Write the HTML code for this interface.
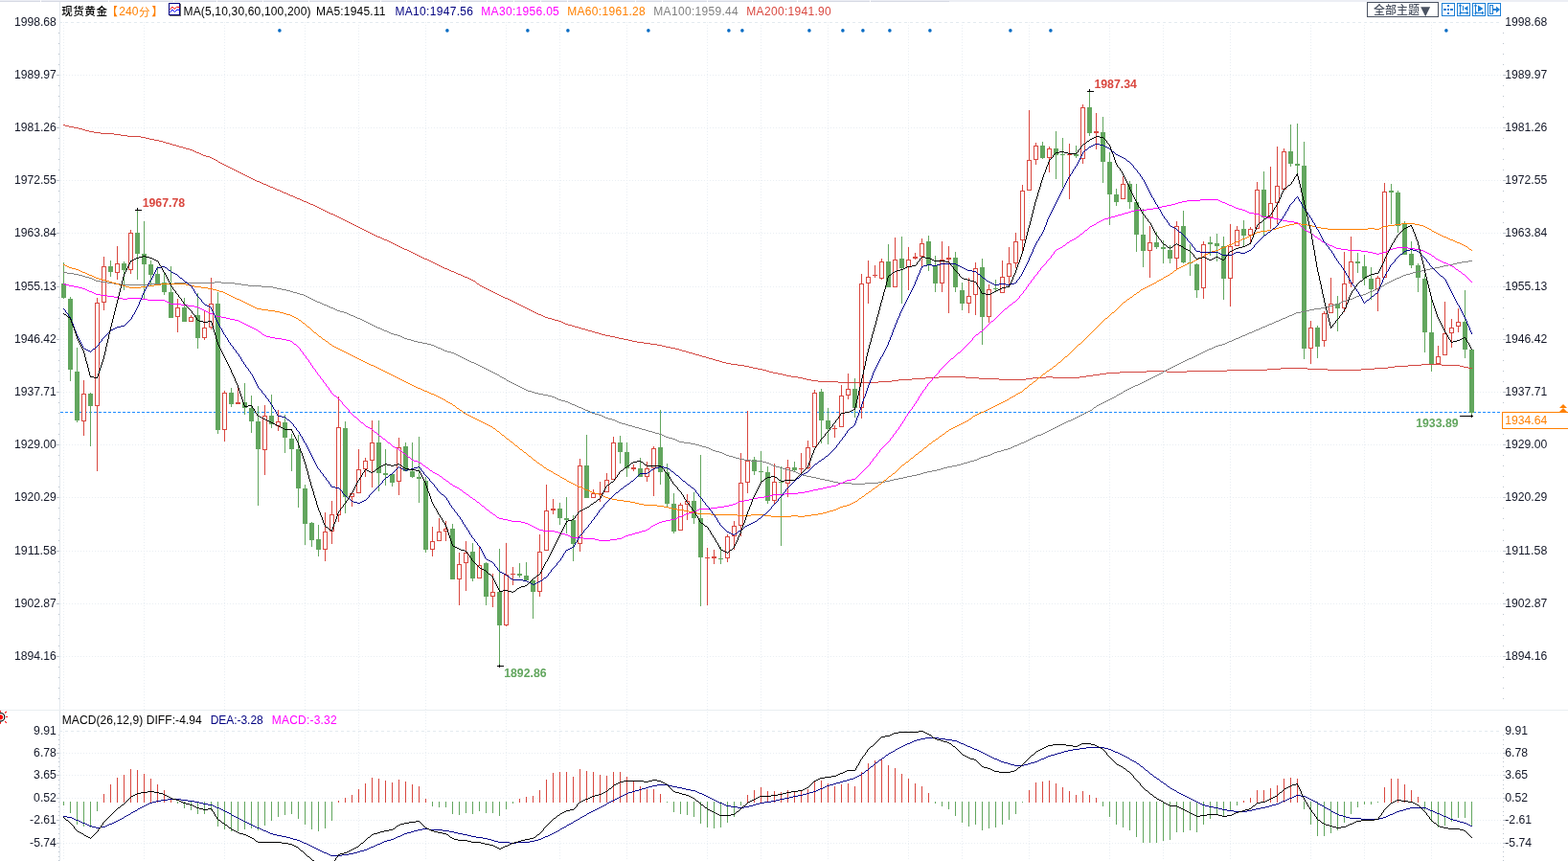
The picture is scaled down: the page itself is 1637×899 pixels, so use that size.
<!DOCTYPE html>
<html lang="zh-CN"><head><meta charset="utf-8"><title>现货黄金 240分</title>
<style>html,body{margin:0;padding:0;background:#fff;overflow:hidden}svg{display:block}text{font-family:"Liberation Sans","Noto Sans CJK SC",sans-serif;font-size:12px}.cj{font-family:"Liberation Sans","Noto Sans CJK SC",sans-serif}.ax{fill:#141828}.m{font-weight:500}.b{font-weight:bold}</style></head><body>
<svg width="1637" height="899" viewBox="0 0 1637 899">
<rect width="1637" height="899" fill="#fff"/>
<g shape-rendering="crispEdges">
<rect x="0" y="0" width="1637" height="2" fill="#eceef4"/><rect x="0" y="1" width="991" height="1" fill="#d6d9e3"/>
<rect x="42" y="0" width="1" height="2" fill="#fbfbfd"/>
<rect x="113" y="0" width="1" height="2" fill="#fbfbfd"/>
<rect x="181" y="0" width="1" height="2" fill="#fbfbfd"/>
<rect x="226" y="0" width="1" height="2" fill="#fbfbfd"/>
<rect x="274" y="0" width="1" height="2" fill="#fbfbfd"/>
<rect x="322" y="0" width="1" height="2" fill="#fbfbfd"/>
<rect x="368" y="0" width="1" height="2" fill="#fbfbfd"/>
<rect x="397" y="0" width="1" height="2" fill="#fbfbfd"/>
<rect x="424" y="0" width="1" height="2" fill="#fbfbfd"/>
<rect x="452" y="0" width="1" height="2" fill="#fbfbfd"/>
<rect x="480" y="0" width="1" height="2" fill="#fbfbfd"/>
<rect x="508" y="0" width="1" height="2" fill="#fbfbfd"/>
<rect x="536" y="0" width="1" height="2" fill="#fbfbfd"/>
<rect x="564" y="0" width="1" height="2" fill="#fbfbfd"/>
<rect x="592" y="0" width="1" height="2" fill="#fbfbfd"/>
<rect x="663" y="0" width="1" height="2" fill="#fbfbfd"/>
<rect x="691" y="0" width="1" height="2" fill="#fbfbfd"/>
<rect x="738" y="0" width="1" height="2" fill="#fbfbfd"/>
<rect x="785" y="0" width="1" height="2" fill="#fbfbfd"/>
<rect x="832" y="0" width="1" height="2" fill="#fbfbfd"/>
<rect x="908" y="0" width="1" height="2" fill="#fbfbfd"/>
<g stroke="#e9eef3" stroke-width="1" fill="none">
<line x1="63" y1="23.5" x2="1567" y2="23.5" stroke-dasharray="3 3" stroke-dashoffset="1" stroke="#e3eaef"/>
<line x1="63" y1="763.5" x2="1567" y2="763.5" stroke-dasharray="3 3" stroke-dashoffset="1" stroke="#e3eaef"/>
<line x1="63" y1="78.5" x2="1567" y2="78.5" stroke-dasharray="1 2"/>
<line x1="63" y1="133.5" x2="1567" y2="133.5" stroke-dasharray="1 2"/>
<line x1="63" y1="188.5" x2="1567" y2="188.5" stroke-dasharray="1 2"/>
<line x1="63" y1="243.5" x2="1567" y2="243.5" stroke-dasharray="1 2"/>
<line x1="63" y1="299.5" x2="1567" y2="299.5" stroke-dasharray="1 2"/>
<line x1="63" y1="354.5" x2="1567" y2="354.5" stroke-dasharray="1 2"/>
<line x1="63" y1="409.5" x2="1567" y2="409.5" stroke-dasharray="1 2"/>
<line x1="63" y1="464.5" x2="1567" y2="464.5" stroke-dasharray="1 2"/>
<line x1="63" y1="519.5" x2="1567" y2="519.5" stroke-dasharray="1 2"/>
<line x1="63" y1="575.5" x2="1567" y2="575.5" stroke-dasharray="1 2"/>
<line x1="63" y1="630.5" x2="1567" y2="630.5" stroke-dasharray="1 2"/>
<line x1="63" y1="685.5" x2="1567" y2="685.5" stroke-dasharray="1 2"/>
<line x1="63" y1="786.5" x2="1567" y2="786.5" stroke-dasharray="1 2"/>
<line x1="63" y1="809.5" x2="1567" y2="809.5" stroke-dasharray="1 2"/>
<line x1="63" y1="833.5" x2="1567" y2="833.5" stroke-dasharray="1 2"/>
<line x1="63" y1="856.5" x2="1567" y2="856.5" stroke-dasharray="1 2"/>
<line x1="63" y1="880.5" x2="1567" y2="880.5" stroke-dasharray="1 2"/>
<line x1="66.5" y1="23" x2="66.5" y2="741" stroke-dasharray="1 2"/>
<line x1="66.5" y1="743" x2="66.5" y2="899" stroke-dasharray="1 2"/>
<line x1="150.5" y1="23" x2="150.5" y2="741" stroke-dasharray="1 2"/>
<line x1="150.5" y1="743" x2="150.5" y2="899" stroke-dasharray="1 2"/>
<line x1="234.5" y1="23" x2="234.5" y2="741" stroke-dasharray="1 2"/>
<line x1="234.5" y1="743" x2="234.5" y2="899" stroke-dasharray="1 2"/>
<line x1="318.5" y1="23" x2="318.5" y2="741" stroke-dasharray="1 2"/>
<line x1="318.5" y1="743" x2="318.5" y2="899" stroke-dasharray="1 2"/>
<line x1="374.5" y1="23" x2="374.5" y2="741" stroke-dasharray="1 2"/>
<line x1="374.5" y1="743" x2="374.5" y2="899" stroke-dasharray="1 2"/>
<line x1="444.5" y1="23" x2="444.5" y2="741" stroke-dasharray="1 2"/>
<line x1="444.5" y1="743" x2="444.5" y2="899" stroke-dasharray="1 2"/>
<line x1="528.5" y1="23" x2="528.5" y2="741" stroke-dasharray="1 2"/>
<line x1="528.5" y1="743" x2="528.5" y2="899" stroke-dasharray="1 2"/>
<line x1="584.5" y1="23" x2="584.5" y2="741" stroke-dasharray="1 2"/>
<line x1="584.5" y1="743" x2="584.5" y2="899" stroke-dasharray="1 2"/>
<line x1="654.5" y1="23" x2="654.5" y2="741" stroke-dasharray="1 2"/>
<line x1="654.5" y1="743" x2="654.5" y2="899" stroke-dasharray="1 2"/>
<line x1="738.5" y1="23" x2="738.5" y2="741" stroke-dasharray="1 2"/>
<line x1="738.5" y1="743" x2="738.5" y2="899" stroke-dasharray="1 2"/>
<line x1="794.5" y1="23" x2="794.5" y2="741" stroke-dasharray="1 2"/>
<line x1="794.5" y1="743" x2="794.5" y2="899" stroke-dasharray="1 2"/>
<line x1="864.5" y1="23" x2="864.5" y2="741" stroke-dasharray="1 2"/>
<line x1="864.5" y1="743" x2="864.5" y2="899" stroke-dasharray="1 2"/>
<line x1="948.5" y1="23" x2="948.5" y2="741" stroke-dasharray="1 2"/>
<line x1="948.5" y1="743" x2="948.5" y2="899" stroke-dasharray="1 2"/>
<line x1="1004.5" y1="23" x2="1004.5" y2="741" stroke-dasharray="1 2"/>
<line x1="1004.5" y1="743" x2="1004.5" y2="899" stroke-dasharray="1 2"/>
<line x1="1074.5" y1="23" x2="1074.5" y2="741" stroke-dasharray="1 2"/>
<line x1="1074.5" y1="743" x2="1074.5" y2="899" stroke-dasharray="1 2"/>
<line x1="1158.5" y1="23" x2="1158.5" y2="741" stroke-dasharray="1 2"/>
<line x1="1158.5" y1="743" x2="1158.5" y2="899" stroke-dasharray="1 2"/>
<line x1="1214.5" y1="23" x2="1214.5" y2="741" stroke-dasharray="1 2"/>
<line x1="1214.5" y1="743" x2="1214.5" y2="899" stroke-dasharray="1 2"/>
<line x1="1284.5" y1="23" x2="1284.5" y2="741" stroke-dasharray="1 2"/>
<line x1="1284.5" y1="743" x2="1284.5" y2="899" stroke-dasharray="1 2"/>
<line x1="1368.5" y1="23" x2="1368.5" y2="741" stroke-dasharray="1 2"/>
<line x1="1368.5" y1="743" x2="1368.5" y2="899" stroke-dasharray="1 2"/>
<line x1="1424.5" y1="23" x2="1424.5" y2="741" stroke-dasharray="1 2"/>
<line x1="1424.5" y1="743" x2="1424.5" y2="899" stroke-dasharray="1 2"/>
<line x1="1494.5" y1="23" x2="1494.5" y2="741" stroke-dasharray="1 2"/>
<line x1="1494.5" y1="743" x2="1494.5" y2="899" stroke-dasharray="1 2"/>
</g>
<rect x="62" y="2" width="1" height="897" fill="#e3e8ee"/>
<rect x="0" y="741" width="1637" height="1" fill="#e9eef1"/>
<rect x="61" y="34" width="1" height="1" fill="#bcc4cd"/><rect x="1569" y="34" width="1" height="1" fill="#bcc4cd"/>
<rect x="61" y="45" width="1" height="1" fill="#bcc4cd"/><rect x="1569" y="45" width="1" height="1" fill="#bcc4cd"/>
<rect x="61" y="56" width="1" height="1" fill="#bcc4cd"/><rect x="1569" y="56" width="1" height="1" fill="#bcc4cd"/>
<rect x="61" y="67" width="1" height="1" fill="#bcc4cd"/><rect x="1569" y="67" width="1" height="1" fill="#bcc4cd"/>
<rect x="59" y="78" width="3" height="1" fill="#bcc4cd"/><rect x="1569" y="78" width="3" height="1" fill="#bcc4cd"/>
<rect x="61" y="89" width="1" height="1" fill="#bcc4cd"/><rect x="1569" y="89" width="1" height="1" fill="#bcc4cd"/>
<rect x="61" y="100" width="1" height="1" fill="#bcc4cd"/><rect x="1569" y="100" width="1" height="1" fill="#bcc4cd"/>
<rect x="61" y="111" width="1" height="1" fill="#bcc4cd"/><rect x="1569" y="111" width="1" height="1" fill="#bcc4cd"/>
<rect x="61" y="122" width="1" height="1" fill="#bcc4cd"/><rect x="1569" y="122" width="1" height="1" fill="#bcc4cd"/>
<rect x="59" y="133" width="3" height="1" fill="#bcc4cd"/><rect x="1569" y="133" width="3" height="1" fill="#bcc4cd"/>
<rect x="61" y="144" width="1" height="1" fill="#bcc4cd"/><rect x="1569" y="144" width="1" height="1" fill="#bcc4cd"/>
<rect x="61" y="155" width="1" height="1" fill="#bcc4cd"/><rect x="1569" y="155" width="1" height="1" fill="#bcc4cd"/>
<rect x="61" y="166" width="1" height="1" fill="#bcc4cd"/><rect x="1569" y="166" width="1" height="1" fill="#bcc4cd"/>
<rect x="61" y="177" width="1" height="1" fill="#bcc4cd"/><rect x="1569" y="177" width="1" height="1" fill="#bcc4cd"/>
<rect x="59" y="188" width="3" height="1" fill="#bcc4cd"/><rect x="1569" y="188" width="3" height="1" fill="#bcc4cd"/>
<rect x="61" y="199" width="1" height="1" fill="#bcc4cd"/><rect x="1569" y="199" width="1" height="1" fill="#bcc4cd"/>
<rect x="61" y="210" width="1" height="1" fill="#bcc4cd"/><rect x="1569" y="210" width="1" height="1" fill="#bcc4cd"/>
<rect x="61" y="221" width="1" height="1" fill="#bcc4cd"/><rect x="1569" y="221" width="1" height="1" fill="#bcc4cd"/>
<rect x="61" y="232" width="1" height="1" fill="#bcc4cd"/><rect x="1569" y="232" width="1" height="1" fill="#bcc4cd"/>
<rect x="59" y="243" width="3" height="1" fill="#bcc4cd"/><rect x="1569" y="243" width="3" height="1" fill="#bcc4cd"/>
<rect x="61" y="254" width="1" height="1" fill="#bcc4cd"/><rect x="1569" y="254" width="1" height="1" fill="#bcc4cd"/>
<rect x="61" y="266" width="1" height="1" fill="#bcc4cd"/><rect x="1569" y="266" width="1" height="1" fill="#bcc4cd"/>
<rect x="61" y="277" width="1" height="1" fill="#bcc4cd"/><rect x="1569" y="277" width="1" height="1" fill="#bcc4cd"/>
<rect x="61" y="288" width="1" height="1" fill="#bcc4cd"/><rect x="1569" y="288" width="1" height="1" fill="#bcc4cd"/>
<rect x="59" y="299" width="3" height="1" fill="#bcc4cd"/><rect x="1569" y="299" width="3" height="1" fill="#bcc4cd"/>
<rect x="61" y="310" width="1" height="1" fill="#bcc4cd"/><rect x="1569" y="310" width="1" height="1" fill="#bcc4cd"/>
<rect x="61" y="321" width="1" height="1" fill="#bcc4cd"/><rect x="1569" y="321" width="1" height="1" fill="#bcc4cd"/>
<rect x="61" y="332" width="1" height="1" fill="#bcc4cd"/><rect x="1569" y="332" width="1" height="1" fill="#bcc4cd"/>
<rect x="61" y="343" width="1" height="1" fill="#bcc4cd"/><rect x="1569" y="343" width="1" height="1" fill="#bcc4cd"/>
<rect x="59" y="354" width="3" height="1" fill="#bcc4cd"/><rect x="1569" y="354" width="3" height="1" fill="#bcc4cd"/>
<rect x="61" y="365" width="1" height="1" fill="#bcc4cd"/><rect x="1569" y="365" width="1" height="1" fill="#bcc4cd"/>
<rect x="61" y="376" width="1" height="1" fill="#bcc4cd"/><rect x="1569" y="376" width="1" height="1" fill="#bcc4cd"/>
<rect x="61" y="387" width="1" height="1" fill="#bcc4cd"/><rect x="1569" y="387" width="1" height="1" fill="#bcc4cd"/>
<rect x="61" y="398" width="1" height="1" fill="#bcc4cd"/><rect x="1569" y="398" width="1" height="1" fill="#bcc4cd"/>
<rect x="59" y="409" width="3" height="1" fill="#bcc4cd"/><rect x="1569" y="409" width="3" height="1" fill="#bcc4cd"/>
<rect x="61" y="420" width="1" height="1" fill="#bcc4cd"/><rect x="1569" y="420" width="1" height="1" fill="#bcc4cd"/>
<rect x="61" y="431" width="1" height="1" fill="#bcc4cd"/><rect x="1569" y="431" width="1" height="1" fill="#bcc4cd"/>
<rect x="61" y="442" width="1" height="1" fill="#bcc4cd"/><rect x="1569" y="442" width="1" height="1" fill="#bcc4cd"/>
<rect x="61" y="453" width="1" height="1" fill="#bcc4cd"/><rect x="1569" y="453" width="1" height="1" fill="#bcc4cd"/>
<rect x="59" y="464" width="3" height="1" fill="#bcc4cd"/><rect x="1569" y="464" width="3" height="1" fill="#bcc4cd"/>
<rect x="61" y="475" width="1" height="1" fill="#bcc4cd"/><rect x="1569" y="475" width="1" height="1" fill="#bcc4cd"/>
<rect x="61" y="486" width="1" height="1" fill="#bcc4cd"/><rect x="1569" y="486" width="1" height="1" fill="#bcc4cd"/>
<rect x="61" y="497" width="1" height="1" fill="#bcc4cd"/><rect x="1569" y="497" width="1" height="1" fill="#bcc4cd"/>
<rect x="61" y="508" width="1" height="1" fill="#bcc4cd"/><rect x="1569" y="508" width="1" height="1" fill="#bcc4cd"/>
<rect x="59" y="519" width="3" height="1" fill="#bcc4cd"/><rect x="1569" y="519" width="3" height="1" fill="#bcc4cd"/>
<rect x="61" y="530" width="1" height="1" fill="#bcc4cd"/><rect x="1569" y="530" width="1" height="1" fill="#bcc4cd"/>
<rect x="61" y="541" width="1" height="1" fill="#bcc4cd"/><rect x="1569" y="541" width="1" height="1" fill="#bcc4cd"/>
<rect x="61" y="553" width="1" height="1" fill="#bcc4cd"/><rect x="1569" y="553" width="1" height="1" fill="#bcc4cd"/>
<rect x="61" y="564" width="1" height="1" fill="#bcc4cd"/><rect x="1569" y="564" width="1" height="1" fill="#bcc4cd"/>
<rect x="59" y="575" width="3" height="1" fill="#bcc4cd"/><rect x="1569" y="575" width="3" height="1" fill="#bcc4cd"/>
<rect x="61" y="586" width="1" height="1" fill="#bcc4cd"/><rect x="1569" y="586" width="1" height="1" fill="#bcc4cd"/>
<rect x="61" y="597" width="1" height="1" fill="#bcc4cd"/><rect x="1569" y="597" width="1" height="1" fill="#bcc4cd"/>
<rect x="61" y="608" width="1" height="1" fill="#bcc4cd"/><rect x="1569" y="608" width="1" height="1" fill="#bcc4cd"/>
<rect x="61" y="619" width="1" height="1" fill="#bcc4cd"/><rect x="1569" y="619" width="1" height="1" fill="#bcc4cd"/>
<rect x="59" y="630" width="3" height="1" fill="#bcc4cd"/><rect x="1569" y="630" width="3" height="1" fill="#bcc4cd"/>
<rect x="61" y="641" width="1" height="1" fill="#bcc4cd"/><rect x="1569" y="641" width="1" height="1" fill="#bcc4cd"/>
<rect x="61" y="652" width="1" height="1" fill="#bcc4cd"/><rect x="1569" y="652" width="1" height="1" fill="#bcc4cd"/>
<rect x="61" y="663" width="1" height="1" fill="#bcc4cd"/><rect x="1569" y="663" width="1" height="1" fill="#bcc4cd"/>
<rect x="61" y="674" width="1" height="1" fill="#bcc4cd"/><rect x="1569" y="674" width="1" height="1" fill="#bcc4cd"/>
<rect x="59" y="685" width="3" height="1" fill="#bcc4cd"/><rect x="1569" y="685" width="3" height="1" fill="#bcc4cd"/>
<rect x="61" y="696" width="1" height="1" fill="#bcc4cd"/><rect x="1569" y="696" width="1" height="1" fill="#bcc4cd"/>
<rect x="61" y="707" width="1" height="1" fill="#bcc4cd"/><rect x="1569" y="707" width="1" height="1" fill="#bcc4cd"/>
<rect x="61" y="718" width="1" height="1" fill="#bcc4cd"/><rect x="1569" y="718" width="1" height="1" fill="#bcc4cd"/>
<rect x="61" y="729" width="1" height="1" fill="#bcc4cd"/><rect x="1569" y="729" width="1" height="1" fill="#bcc4cd"/>
<rect x="61" y="767" width="1" height="1" fill="#bcc4cd"/><rect x="1569" y="767" width="1" height="1" fill="#bcc4cd"/>
<rect x="61" y="772" width="1" height="1" fill="#bcc4cd"/><rect x="1569" y="772" width="1" height="1" fill="#bcc4cd"/>
<rect x="61" y="777" width="1" height="1" fill="#bcc4cd"/><rect x="1569" y="777" width="1" height="1" fill="#bcc4cd"/>
<rect x="61" y="781" width="1" height="1" fill="#bcc4cd"/><rect x="1569" y="781" width="1" height="1" fill="#bcc4cd"/>
<rect x="59" y="786" width="3" height="1" fill="#bcc4cd"/><rect x="1569" y="786" width="3" height="1" fill="#bcc4cd"/>
<rect x="61" y="791" width="1" height="1" fill="#bcc4cd"/><rect x="1569" y="791" width="1" height="1" fill="#bcc4cd"/>
<rect x="61" y="795" width="1" height="1" fill="#bcc4cd"/><rect x="1569" y="795" width="1" height="1" fill="#bcc4cd"/>
<rect x="61" y="800" width="1" height="1" fill="#bcc4cd"/><rect x="1569" y="800" width="1" height="1" fill="#bcc4cd"/>
<rect x="61" y="805" width="1" height="1" fill="#bcc4cd"/><rect x="1569" y="805" width="1" height="1" fill="#bcc4cd"/>
<rect x="59" y="809" width="3" height="1" fill="#bcc4cd"/><rect x="1569" y="809" width="3" height="1" fill="#bcc4cd"/>
<rect x="61" y="814" width="1" height="1" fill="#bcc4cd"/><rect x="1569" y="814" width="1" height="1" fill="#bcc4cd"/>
<rect x="61" y="819" width="1" height="1" fill="#bcc4cd"/><rect x="1569" y="819" width="1" height="1" fill="#bcc4cd"/>
<rect x="61" y="823" width="1" height="1" fill="#bcc4cd"/><rect x="1569" y="823" width="1" height="1" fill="#bcc4cd"/>
<rect x="61" y="828" width="1" height="1" fill="#bcc4cd"/><rect x="1569" y="828" width="1" height="1" fill="#bcc4cd"/>
<rect x="59" y="833" width="3" height="1" fill="#bcc4cd"/><rect x="1569" y="833" width="3" height="1" fill="#bcc4cd"/>
<rect x="61" y="837" width="1" height="1" fill="#bcc4cd"/><rect x="1569" y="837" width="1" height="1" fill="#bcc4cd"/>
<rect x="61" y="842" width="1" height="1" fill="#bcc4cd"/><rect x="1569" y="842" width="1" height="1" fill="#bcc4cd"/>
<rect x="61" y="847" width="1" height="1" fill="#bcc4cd"/><rect x="1569" y="847" width="1" height="1" fill="#bcc4cd"/>
<rect x="61" y="851" width="1" height="1" fill="#bcc4cd"/><rect x="1569" y="851" width="1" height="1" fill="#bcc4cd"/>
<rect x="59" y="856" width="3" height="1" fill="#bcc4cd"/><rect x="1569" y="856" width="3" height="1" fill="#bcc4cd"/>
<rect x="61" y="861" width="1" height="1" fill="#bcc4cd"/><rect x="1569" y="861" width="1" height="1" fill="#bcc4cd"/>
<rect x="61" y="865" width="1" height="1" fill="#bcc4cd"/><rect x="1569" y="865" width="1" height="1" fill="#bcc4cd"/>
<rect x="61" y="870" width="1" height="1" fill="#bcc4cd"/><rect x="1569" y="870" width="1" height="1" fill="#bcc4cd"/>
<rect x="61" y="875" width="1" height="1" fill="#bcc4cd"/><rect x="1569" y="875" width="1" height="1" fill="#bcc4cd"/>
<rect x="59" y="880" width="3" height="1" fill="#bcc4cd"/><rect x="1569" y="880" width="3" height="1" fill="#bcc4cd"/>
<rect x="61" y="884" width="1" height="1" fill="#bcc4cd"/><rect x="1569" y="884" width="1" height="1" fill="#bcc4cd"/>
<rect x="61" y="889" width="1" height="1" fill="#bcc4cd"/><rect x="1569" y="889" width="1" height="1" fill="#bcc4cd"/>
<rect x="61" y="894" width="1" height="1" fill="#bcc4cd"/><rect x="1569" y="894" width="1" height="1" fill="#bcc4cd"/>
<rect x="61" y="898" width="1" height="1" fill="#bcc4cd"/><rect x="1569" y="898" width="1" height="1" fill="#bcc4cd"/>
</g>
<line x1="63" y1="430.5" x2="1568" y2="430.5" stroke="#1e8cff" stroke-width="1" stroke-dasharray="3 2" shape-rendering="crispEdges"/>
<g shape-rendering="crispEdges">
<path d="M86 412h3v27h-3zM100 317h3v106h-3zM107 279h3v36h-3zM121 276h3v8h-3zM135 244h3v37h-3zM184 322h3v8h-3zM198 332h3v3h-3zM212 343h3v9h-3zM219 318h3v23h-3zM233 411h3v37h-3zM275 435h3v34h-3zM289 441h3v3h-3zM338 556h3v17h-3zM345 538h3v16h-3zM352 447h3v90h-3zM366 516h3v2h-3zM373 491h3v23h-3zM380 482h3v7h-3zM387 463h3v17h-3zM415 468h3v34h-3zM450 566h3v7h-3zM457 556h3v8h-3zM464 553h3v1h-3zM478 590h3v14h-3zM485 578h3v9h-3zM499 591h3v12h-3zM513 619h3v3h-3zM527 601h3v51h-3zM562 577h3v40h-3zM569 534h3v40h-3zM604 487h3v80h-3zM618 516h3v3h-3zM632 502h3v11h-3zM639 463h3v37h-3zM674 490h3v7h-3zM681 469h3v19h-3zM709 528h3v25h-3zM716 524h3v2h-3zM758 561h3v21h-3zM765 550h3v9h-3zM772 505h3v43h-3zM779 482h3v21h-3zM807 504h3v18h-3zM821 489h3v15h-3zM842 468h3v20h-3zM849 411h3v55h-3zM877 414h3v31h-3zM884 407h3v5h-3zM898 297h3v128h-3zM905 290h3v5h-3zM919 274h3v16h-3zM933 272h3v27h-3zM947 272h3v6h-3zM961 255h3v12h-3zM982 272h3v23h-3zM1010 310h3v6h-3zM1017 281h3v26h-3zM1031 303h3v27h-3zM1045 290h3v15h-3zM1052 276h3v12h-3zM1059 253h3v21h-3zM1066 200h3v50h-3zM1073 168h3v30h-3zM1080 153h3v13h-3zM1094 156h3v8h-3zM1129 113h3v52h-3zM1171 193h3v14h-3zM1199 254h3v7h-3zM1227 237h3v32h-3zM1255 256h3v44h-3zM1283 258h3v32h-3zM1290 241h3v15h-3zM1304 240h3v5h-3zM1311 199h3v39h-3zM1325 213h3v13h-3zM1332 195h3v16h-3zM1339 159h3v38h-3zM1367 343h3v20h-3zM1381 328h3v27h-3zM1388 318h3v8h-3zM1402 297h3v24h-3zM1409 274h3v21h-3zM1437 291h3v10h-3zM1444 201h3v88h-3zM1500 373h3v6h-3zM1507 349h3v21h-3zM1514 343h3v4h-3zM1521 337h3v3h-3z" fill="#fff"/>
<path d="M66 274h1v38h-1zM64 296h5v15h-5zM73 310h1v88h-1zM71 312h5v74h-5zM80 363h1v78h-1zM78 388h5v51h-5zM94 410h1v56h-1zM92 411h5v13h-5zM115 272h1v17h-1zM113 278h5v6h-5zM129 273h1v30h-1zM127 275h5v7h-5zM143 219h1v73h-1zM141 243h5v22h-5zM150 231h1v81h-1zM148 265h5v11h-5zM157 272h1v26h-1zM155 276h5v11h-5zM164 278h1v19h-1zM162 286h5v10h-5zM171 285h1v23h-1zM169 295h5v10h-5zM178 278h1v54h-1zM176 305h5v27h-5zM192 311h1v25h-1zM190 321h5v15h-5zM206 306h1v58h-1zM204 329h5v24h-5zM227 305h1v148h-1zM225 317h5v132h-5zM241 405h1v20h-1zM239 410h5v12h-5zM255 400h1v33h-1zM253 420h5v6h-5zM262 413h1v39h-1zM260 426h5v14h-5zM269 424h1v104h-1zM267 440h5v29h-5zM283 412h1v35h-1zM281 434h5v9h-5zM297 433h1v40h-1zM295 441h5v16h-5zM304 453h1v39h-1zM302 458h5v11h-5zM311 454h1v76h-1zM309 469h5v41h-5zM318 506h1v63h-1zM316 510h5v37h-5zM325 545h1v26h-1zM323 546h5v18h-5zM332 548h1v33h-1zM330 563h5v11h-5zM360 440h1v96h-1zM358 447h5v72h-5zM395 439h1v74h-1zM393 462h5v32h-5zM402 469h1v38h-1zM400 494h5v2h-5zM409 494h1v14h-1zM407 495h5v9h-5zM423 462h1v30h-1zM421 466h5v26h-5zM430 462h1v37h-1zM428 492h5v6h-5zM437 456h1v69h-1zM435 498h5v2h-5zM444 498h1v79h-1zM442 502h5v72h-5zM472 547h1v58h-1zM470 552h5v53h-5zM493 567h1v40h-1zM491 576h5v28h-5zM507 587h1v45h-1zM505 588h5v35h-5zM521 573h1v123h-1zM519 618h5v35h-5zM542 588h1v15h-1zM540 599h5v2h-5zM549 587h1v19h-1zM547 601h5v5h-5zM556 605h1v41h-1zM554 606h5v12h-5zM584 525h1v23h-1zM582 531h5v10h-5zM591 519h1v38h-1zM589 541h5v2h-5zM598 538h1v48h-1zM596 543h5v25h-5zM612 454h1v66h-1zM610 486h5v34h-5zM647 455h1v29h-1zM645 462h5v10h-5zM654 462h1v36h-1zM652 472h5v17h-5zM668 478h1v20h-1zM666 489h5v9h-5zM689 428h1v78h-1zM687 467h5v26h-5zM696 484h1v45h-1zM694 493h5v33h-5zM703 515h1v42h-1zM701 526h5v29h-5zM724 514h1v33h-1zM722 523h5v18h-5zM731 475h1v158h-1zM729 541h5v41h-5zM752 571h1v18h-1zM750 583h5v1h-5zM787 477h1v19h-1zM785 480h5v12h-5zM794 471h1v32h-1zM792 492h5v1h-5zM801 487h1v39h-1zM799 493h5v30h-5zM815 487h1v83h-1zM813 503h5v1h-5zM829 482h1v11h-1zM827 488h5v3h-5zM857 406h1v57h-1zM855 409h5v30h-5zM864 426h1v38h-1zM862 439h5v9h-5zM892 395h1v41h-1zM890 406h5v20h-5zM927 255h1v45h-1zM925 273h5v27h-5zM941 247h1v70h-1zM939 270h5v10h-5zM969 246h1v37h-1zM967 252h5v25h-5zM976 267h1v38h-1zM974 277h5v19h-5zM997 263h1v42h-1zM995 269h5v31h-5zM1004 295h1v29h-1zM1002 303h5v14h-5zM1025 270h1v90h-1zM1023 279h5v52h-5zM1039 292h1v13h-1zM1037 301h5v1h-5zM1088 148h1v18h-1zM1086 152h5v13h-5zM1102 137h1v50h-1zM1100 155h5v7h-5zM1109 144h1v52h-1zM1107 161h5v1h-5zM1123 152h1v13h-1zM1121 161h5v2h-5zM1137 96h1v46h-1zM1135 112h5v27h-5zM1151 122h1v69h-1zM1149 138h5v31h-5zM1158 159h1v76h-1zM1156 169h5v34h-5zM1165 197h1v18h-1zM1163 203h5v8h-5zM1179 189h1v29h-1zM1177 192h5v19h-5zM1186 192h1v71h-1zM1184 211h5v34h-5zM1193 218h1v61h-1zM1191 245h5v17h-5zM1207 242h1v18h-1zM1205 253h5v5h-5zM1214 251h1v24h-1zM1212 258h5v2h-5zM1221 256h1v19h-1zM1219 261h5v9h-5zM1235 220h1v55h-1zM1233 236h5v38h-5zM1242 255h1v33h-1zM1240 274h5v1h-5zM1249 275h1v36h-1zM1247 276h5v27h-5zM1263 247h1v20h-1zM1261 253h5v2h-5zM1270 244h1v29h-1zM1268 254h5v3h-5zM1277 247h1v66h-1zM1275 257h5v34h-5zM1298 230h1v27h-1zM1296 239h5v7h-5zM1319 179h1v67h-1zM1317 198h5v29h-5zM1347 130h1v44h-1zM1345 158h5v13h-5zM1354 129h1v52h-1zM1352 171h5v2h-5zM1361 148h1v227h-1zM1359 173h5v191h-5zM1375 340h1v34h-1zM1373 342h5v20h-5zM1396 309h1v37h-1zM1394 317h5v5h-5zM1417 264h1v21h-1zM1415 273h5v2h-5zM1424 266h1v32h-1zM1422 278h5v13h-5zM1431 279h1v34h-1zM1429 291h5v11h-5zM1452 192h1v42h-1zM1450 199h5v2h-5zM1459 199h1v44h-1zM1457 201h5v35h-5zM1466 231h1v35h-1zM1464 233h5v33h-5zM1473 252h1v28h-1zM1471 265h5v12h-5zM1480 275h1v30h-1zM1478 277h5v13h-5zM1487 286h1v82h-1zM1485 291h5v56h-5zM1494 309h1v79h-1zM1492 347h5v33h-5zM1529 303h1v71h-1zM1527 336h5v29h-5zM1536 364h1v71h-1zM1534 365h5v66h-5z" fill="#62a65e"/>
<path d="M87 397h1v14h-1zM87 440h1v15h-1zM85 411h5v29h-5zM86 412v27h3v-27zM101 311h1v5h-1zM101 424h1v68h-1zM99 316h5v108h-5zM100 317v106h3v-106zM108 268h1v10h-1zM108 316h1v8h-1zM106 278h5v38h-5zM107 279v36h3v-36zM122 257h1v18h-1zM122 285h1v7h-1zM120 275h5v10h-5zM121 276v8h3v-8zM136 240h1v3h-1zM136 282h1v4h-1zM134 243h5v39h-5zM135 244v37h3v-37zM185 312h1v9h-1zM185 331h1v16h-1zM183 321h5v10h-5zM184 322v8h3v-8zM199 329h1v2h-1zM197 331h5v5h-5zM198 332v3h3v-3zM213 325h1v17h-1zM213 353h1v2h-1zM211 342h5v11h-5zM212 343v9h3v-9zM220 290h1v27h-1zM220 342h1v2h-1zM218 317h5v25h-5zM219 318v23h3v-23zM234 408h1v2h-1zM234 449h1v12h-1zM232 410h5v39h-5zM233 411v37h3v-37zM248 405h1v15h-1zM246 420h5v2h-5zM276 423h1v11h-1zM276 470h1v26h-1zM274 434h5v36h-5zM275 435v34h3v-34zM290 428h1v12h-1zM290 445h1v5h-1zM288 440h5v5h-5zM289 441v3h3v-3zM339 535h1v20h-1zM339 574h1v12h-1zM337 555h5v19h-5zM338 556v17h3v-17zM346 523h1v14h-1zM346 555h1v13h-1zM344 537h5v18h-5zM345 538v16h3v-16zM353 414h1v32h-1zM353 538h1v7h-1zM351 446h5v92h-5zM352 447v90h3v-90zM367 514h1v1h-1zM367 519h1v10h-1zM365 515h5v4h-5zM366 516v2h3v-2zM374 469h1v21h-1zM372 490h5v25h-5zM373 491v23h3v-23zM381 478h1v3h-1zM381 490h1v8h-1zM379 481h5v9h-5zM380 482v7h3v-7zM388 439h1v23h-1zM388 481h1v28h-1zM386 462h5v19h-5zM387 463v17h3v-17zM416 457h1v10h-1zM416 503h1v14h-1zM414 467h5v36h-5zM415 468v34h3v-34zM451 550h1v15h-1zM451 574h1v7h-1zM449 565h5v9h-5zM450 566v7h3v-7zM458 541h1v14h-1zM456 555h5v10h-5zM457 556v8h3v-8zM465 544h1v8h-1zM465 555h1v10h-1zM463 552h5v3h-5zM464 553v1h3v-1zM479 577h1v12h-1zM479 605h1v27h-1zM477 589h5v16h-5zM478 590v14h3v-14zM486 565h1v12h-1zM486 588h1v29h-1zM484 577h5v11h-5zM485 578v9h3v-9zM500 571h1v19h-1zM498 590h5v14h-5zM499 591v12h3v-12zM514 599h1v19h-1zM514 623h1v11h-1zM512 618h5v5h-5zM513 619v3h3v-3zM528 567h1v33h-1zM528 653h1v1h-1zM526 600h5v53h-5zM527 601v51h3v-51zM535 592h1v7h-1zM535 600h1v11h-1zM533 599h5v1h-5zM563 558h1v18h-1zM563 618h1v5h-1zM561 576h5v42h-5zM562 577v40h3v-40zM570 506h1v27h-1zM568 533h5v42h-5zM569 534v40h3v-40zM577 521h1v10h-1zM577 533h1v4h-1zM575 531h5v2h-5zM605 479h1v7h-1zM605 568h1v8h-1zM603 486h5v82h-5zM604 487v80h3v-80zM619 511h1v4h-1zM617 515h5v5h-5zM618 516v3h3v-3zM626 503h1v12h-1zM626 516h1v8h-1zM624 515h5v1h-5zM633 494h1v7h-1zM631 501h5v13h-5zM632 502v11h3v-11zM640 456h1v6h-1zM638 462h5v39h-5zM639 463v37h3v-37zM661 485h1v3h-1zM661 490h1v2h-1zM659 488h5v2h-5zM675 482h1v7h-1zM675 498h1v5h-1zM673 489h5v9h-5zM674 490v7h3v-7zM682 466h1v2h-1zM682 489h1v29h-1zM680 468h5v21h-5zM681 469v19h3v-19zM710 525h1v2h-1zM708 527h5v27h-5zM709 528v25h3v-25zM717 516h1v7h-1zM717 527h1v16h-1zM715 523h5v4h-5zM716 524v2h3v-2zM738 572h1v10h-1zM738 583h1v49h-1zM736 582h5v1h-5zM745 574h1v7h-1zM745 583h1v6h-1zM743 581h5v2h-5zM759 558h1v2h-1zM759 583h1v4h-1zM757 560h5v23h-5zM758 561v21h3v-21zM766 544h1v5h-1zM766 560h1v14h-1zM764 549h5v11h-5zM765 550v9h3v-9zM773 473h1v31h-1zM773 549h1v11h-1zM771 504h5v45h-5zM772 505v43h3v-43zM780 429h1v52h-1zM780 504h1v11h-1zM778 481h5v23h-5zM779 482v21h3v-21zM808 484h1v19h-1zM808 523h1v3h-1zM806 503h5v20h-5zM807 504v18h3v-18zM822 480h1v8h-1zM822 505h1v14h-1zM820 488h5v17h-5zM821 489v15h3v-15zM836 473h1v16h-1zM836 490h1v5h-1zM834 489h5v1h-5zM843 460h1v7h-1zM843 489h1v1h-1zM841 467h5v22h-5zM842 468v20h3v-20zM850 407h1v3h-1zM848 410h5v57h-5zM849 411v55h3v-55zM871 444h1v3h-1zM871 448h1v9h-1zM869 447h5v1h-5zM878 402h1v11h-1zM876 413h5v33h-5zM877 414v31h3v-31zM885 390h1v16h-1zM885 413h1v4h-1zM883 406h5v7h-5zM884 407v5h3v-5zM899 286h1v10h-1zM899 426h1v11h-1zM897 296h5v130h-5zM898 297v128h3v-128zM906 272h1v17h-1zM906 296h1v21h-1zM904 289h5v7h-5zM905 290v5h3v-5zM913 277h1v10h-1zM913 288h1v2h-1zM911 287h5v1h-5zM920 270h1v3h-1zM920 291h1v1h-1zM918 273h5v18h-5zM919 274v16h3v-16zM934 248h1v23h-1zM932 271h5v29h-5zM933 272v27h3v-27zM948 258h1v13h-1zM948 279h1v24h-1zM946 271h5v8h-5zM947 272v6h3v-6zM955 264h1v4h-1zM955 270h1v1h-1zM953 268h5v2h-5zM962 249h1v5h-1zM962 268h1v10h-1zM960 254h5v14h-5zM961 255v12h3v-12zM983 252h1v19h-1zM983 296h1v9h-1zM981 271h5v25h-5zM982 272v23h3v-23zM990 257h1v12h-1zM990 271h1v56h-1zM988 269h5v2h-5zM1011 290h1v19h-1zM1011 317h1v10h-1zM1009 309h5v8h-5zM1010 310v6h3v-6zM1018 274h1v6h-1zM1018 308h1v21h-1zM1016 280h5v28h-5zM1017 281v26h3v-26zM1032 297h1v5h-1zM1032 331h1v6h-1zM1030 302h5v29h-5zM1031 303v27h3v-27zM1046 272h1v17h-1zM1044 289h5v17h-5zM1045 290v15h3v-15zM1053 258h1v17h-1zM1053 289h1v10h-1zM1051 275h5v14h-5zM1052 276v12h3v-12zM1060 243h1v9h-1zM1060 275h1v5h-1zM1058 252h5v23h-5zM1059 253v21h3v-21zM1067 193h1v6h-1zM1067 251h1v12h-1zM1065 199h5v52h-5zM1066 200v50h3v-50zM1074 115h1v52h-1zM1072 167h5v32h-5zM1073 168v30h3v-30zM1081 149h1v3h-1zM1081 167h1v5h-1zM1079 152h5v15h-5zM1080 153v13h3v-13zM1095 153h1v2h-1zM1095 165h1v15h-1zM1093 155h5v10h-5zM1094 156v8h3v-8zM1116 150h1v11h-1zM1116 162h1v46h-1zM1114 161h5v1h-5zM1130 109h1v3h-1zM1130 166h1v5h-1zM1128 112h5v54h-5zM1129 113v52h3v-52zM1144 118h1v19h-1zM1144 139h1v17h-1zM1142 137h5v2h-5zM1172 184h1v8h-1zM1170 192h5v16h-5zM1171 193v14h3v-14zM1200 236h1v17h-1zM1200 262h1v28h-1zM1198 253h5v9h-5zM1199 254v7h3v-7zM1228 231h1v5h-1zM1228 270h1v12h-1zM1226 236h5v34h-5zM1227 237v32h3v-32zM1256 252h1v3h-1zM1256 301h1v11h-1zM1254 255h5v46h-5zM1255 256v44h3v-44zM1284 234h1v23h-1zM1284 291h1v29h-1zM1282 257h5v34h-5zM1283 258v32h3v-32zM1291 236h1v4h-1zM1289 240h5v17h-5zM1290 241v15h3v-15zM1305 237h1v2h-1zM1305 246h1v7h-1zM1303 239h5v7h-5zM1304 240v5h3v-5zM1312 190h1v8h-1zM1310 198h5v41h-5zM1311 199v39h3v-39zM1326 174h1v38h-1zM1326 227h1v12h-1zM1324 212h5v15h-5zM1325 213v13h3v-13zM1333 153h1v41h-1zM1333 212h1v22h-1zM1331 194h5v18h-5zM1332 195v16h3v-16zM1340 155h1v3h-1zM1338 158h5v40h-5zM1339 159v38h3v-38zM1368 335h1v7h-1zM1368 364h1v16h-1zM1366 342h5v22h-5zM1367 343v20h3v-20zM1382 325h1v2h-1zM1382 356h1v6h-1zM1380 327h5v29h-5zM1381 328v27h3v-27zM1389 290h1v27h-1zM1387 317h5v10h-5zM1388 318v8h3v-8zM1403 263h1v33h-1zM1403 322h1v4h-1zM1401 296h5v26h-5zM1402 297v24h3v-24zM1410 247h1v26h-1zM1410 296h1v4h-1zM1408 273h5v23h-5zM1409 274v21h3v-21zM1438 288h1v2h-1zM1438 302h1v23h-1zM1436 290h5v12h-5zM1437 291v10h3v-10zM1445 191h1v9h-1zM1443 200h5v90h-5zM1444 201v88h3v-88zM1501 361h1v11h-1zM1499 372h5v8h-5zM1500 373v6h3v-6zM1508 315h1v33h-1zM1506 348h5v23h-5zM1507 349v21h3v-21zM1515 333h1v9h-1zM1515 348h1v15h-1zM1513 342h5v6h-5zM1514 343v4h3v-4zM1522 322h1v14h-1zM1522 341h1v6h-1zM1520 336h5v5h-5zM1521 337v3h3v-3z" fill="#d9473f" fill-rule="evenodd"/>
</g>
<path d="M66 130h2m0 1h4m0 1h5m0 1h5m0 1h4m0 1h3m0 1h4m0 1h5m0 1h7m0 1h14m0 1h7m0 1h7m0 1h14m0 1h5m0 1h4m0 1h5m0 1h5m0 1h4m0 1h3m0 1h4m0 1h3m0 1h4m0 1h3m0 1h4m0 1h3m0 1h4m0 1h3m0 1h2m0 1h2m0 1h3m0 1h2m0 1h2m0 1h3m0 1h4m0 1h2m0 1h2m0 1h2m0 1h2m0 1h1m0 1h2m0 1h2m0 1h2m0 1h2m0 1h2m0 1h2m0 1h2m0 1h2m0 1h2m0 1h2m0 1h2m0 1h2m0 1h2m0 1h2m0 1h2m0 1h2m0 1h2m0 1h2m0 1h2m0 1h2m0 1h3m0 1h2m0 1h2m0 1h3m0 1h2m0 1h2m0 1h3m0 1h2m0 1h2m0 1h3m0 1h2m0 1h2m0 1h3m0 1h2m0 1h2m0 1h3m0 1h2m0 1h2m0 1h3m0 1h2m0 1h2m0 1h3m0 1h2m0 1h2m0 1h3m0 1h2m0 1h2m0 1h2m0 1h2m0 1h2m0 1h2m0 1h2m0 1h2m0 1h2m0 1h3m0 1h2m0 1h2m0 1h2m0 1h2m0 1h2m0 1h2m0 1h2m0 1h2m0 1h2m0 1h2m0 1h2m0 1h2m0 1h2m0 1h2m0 1h2m0 1h2m0 1h2m0 1h2m0 1h2m0 1h2m0 1h2m0 1h2m0 1h2m0 1h3m0 1h2m0 1h2m0 1h3m0 1h2m0 1h2m0 1h2m0 1h2m0 1h2m0 1h2m0 1h2m0 1h2m0 1h2m0 1h3m0 1h2m0 1h2m0 1h2m0 1h2m0 1h2m0 1h2m0 1h2m0 1h2m0 1h2m0 1h3m0 1h2m0 1h2m0 1h2m0 1h2m0 1h2m0 1h2m0 1h2m0 1h2m0 1h2m0 1h3m0 1h2m0 1h2m0 1h3m0 1h2m0 1h2m0 1h3m0 1h2m0 1h2m0 1h3m0 1h2m0 1h2m0 1h2m0 1h2m0 1h1m0 1h1m0 1h2m0 1h1m0 1h2m0 1h2m0 1h2m0 1h2m0 1h2m0 1h2m0 1h2m0 1h2m0 1h2m0 1h2m0 1h2m0 1h2m0 1h2m0 1h3m0 1h2m0 1h2m0 1h2m0 1h2m0 1h2m0 1h2m0 1h2m0 1h2m0 1h2m0 1h2m0 1h2m0 1h2m0 1h2m0 1h2m0 1h2m0 1h2m0 1h3m0 1h2m0 1h2m0 1h3m0 1h4m0 1h3m0 1h4m0 1h3m0 1h2m0 1h2m0 1h3m0 1h4m0 1h3m0 1h4m0 1h3m0 1h4m0 1h3m0 1h4m0 1h3m0 1h4m0 1h3m0 1h4m0 1h5m0 1h5m0 1h4m0 1h5m0 1h5m0 1h4m0 1h5m0 1h7m0 1h7m0 1h7m0 1h5m0 1h4m0 1h5m0 1h5m0 1h4m0 1h3m0 1h4m0 1h3m0 1h4m0 1h3m0 1h4m0 1h3m0 1h4m0 1h3m0 1h4m0 1h3m0 1h4m0 1h3m0 1h4m0 1h5m0 1h7m0 1h7m0 1h5m0 1h4m0 1h5m0 1h5m0 1h4m0 1h3m0 1h4m0 1h5m0 1h5m0 1h4m0 1h5m0 1h7m0 1h5m0 1h4m0 1h5m0 1h7m0 1h21m0 1h42m0 -1h14m0 -1h7m0 -1h14m0 -1h14m0 -1h14m0 -1h28m0 1h14m0 1h21m0 1h28m0 -1h7m0 -1h14m0 -1h7m0 1h28m0 -1h7m0 -1h7m0 -1h7m0 -1h7m0 -1h14m0 -1h28m0 -1h21m0 1h21m0 -1h42m0 -1h42m0 -1h14m0 -1h28m0 1h21m0 1h35m0 -1h14m0 -1h14m0 -1h7m0 -1h14m0 -1h14m0 -1h21m0 1h19m0 1h4m0 1h5m0 1h4" transform="translate(0,.5)" fill="none" stroke="#d2453f" stroke-width="1" shape-rendering="crispEdges"/>
<path d="M66 284h4m0 1h7m0 1h5m0 1h4m0 1h3m0 1h4m0 1h3m0 1h2m0 1h2m0 1h5m0 1h7m0 1h7m0 1h7m0 1h28m0 -1h28m0 -1h42m0 -1h7m0 1h14m0 1h7m0 1h7m0 1h14m0 1h12m0 1h4m0 1h5m0 1h5m0 1h4m0 1h3m0 1h4m0 1h3m0 1h4m0 1h2m0 1h2m0 1h2m0 1h2m0 1h2m0 1h2m0 1h2m0 1h3m0 1h2m0 1h2m0 1h3m0 1h2m0 1h2m0 1h3m0 1h2m0 1h2m0 1h3m0 1h4m0 1h3m0 1h2m0 1h2m0 1h3m0 1h2m0 1h2m0 1h3m0 1h2m0 1h2m0 1h2m0 1h2m0 1h2m0 1h2m0 1h2m0 1h2m0 1h2m0 1h3m0 1h2m0 1h2m0 1h3m0 1h2m0 1h2m0 1h3m0 1h4m0 1h3m0 1h2m0 1h2m0 1h3m0 1h4m0 1h3m0 1h4m0 1h5m0 1h5m0 1h4m0 1h3m0 1h2m0 1h2m0 1h3m0 1h2m0 1h2m0 1h3m0 1h4m0 1h3m0 1h2m0 1h2m0 1h2m0 1h2m0 1h2m0 1h2m0 1h2m0 1h2m0 1h2m0 1h3m0 1h2m0 1h2m0 1h2m0 1h2m0 1h2m0 1h2m0 1h2m0 1h2m0 1h2m0 1h2m0 1h2m0 1h2m0 1h2m0 1h1m0 1h2m0 1h2m0 1h2m0 1h1m0 1h2m0 1h2m0 1h2m0 1h2m0 1h2m0 1h2m0 1h2m0 1h2m0 1h2m0 1h2m0 1h2m0 1h4m0 1h3m0 1h4m0 1h5m0 1h5m0 1h4m0 1h3m0 1h2m0 1h2m0 1h3m0 1h4m0 1h3m0 1h2m0 1h2m0 1h3m0 1h2m0 1h2m0 1h3m0 1h2m0 1h2m0 1h3m0 1h2m0 1h2m0 1h3m0 1h4m0 1h3m0 1h2m0 1h2m0 1h3m0 1h4m0 1h3m0 1h2m0 1h2m0 1h3m0 1h4m0 1h3m0 1h4m0 1h3m0 1h4m0 1h3m0 1h4m0 1h3m0 1h4m0 1h3m0 1h4m0 1h3m0 1h2m0 1h2m0 1h3m0 1h4m0 1h3m0 1h2m0 1h2m0 1h5m0 1h7m0 1h5m0 1h4m0 1h3m0 1h4m0 1h3m0 1h2m0 1h2m0 1h3m0 1h4m0 1h3m0 1h2m0 1h2m0 1h3m0 1h4m0 1h3m0 1h4m0 1h5m0 1h7m0 1h12m0 1h4m0 1h3m0 1h2m0 1h2m0 1h3m0 1h4m0 1h3m0 1h4m0 1h3m0 1h4m0 1h3m0 1h2m0 1h2m0 1h3m0 1h4m0 1h5m0 1h5m0 1h4m0 1h5m0 1h5m0 1h4m0 1h5m0 1h14m0 1h14m0 -1h14m0 -1h7m0 -1h5m0 -1h4m0 -1h5m0 -1h5m0 -1h4m0 -1h5m0 -1h5m0 -1h4m0 -1h3m0 -1h4m0 -1h5m0 -1h5m0 -1h4m0 -1h3m0 -1h4m0 -1h5m0 -1h5m0 -1h4m0 -1h3m0 -1h4m0 -1h3m0 -1h4m0 -1h3m0 -1h2m0 -1h2m0 -1h3m0 -1h4m0 -1h3m0 -1h2m0 -1h2m0 -1h3m0 -1h4m0 -1h3m0 -1h4m0 -1h3m0 -1h2m0 -1h2m0 -1h3m0 -1h2m0 -1h2m0 -1h3m0 -1h2m0 -1h2m0 -1h2m0 -1h2m0 -1h2m0 -1h2m0 -1h2m0 -1h4m0 -1h2m0 -1h2m0 -1h2m0 -1h2m0 -1h2m0 -1h2m0 -1h2m0 -1h2m0 -1h2m0 -1h2m0 -1h2m0 -1h2m0 -1h2m0 -1h2m0 -1h3m0 -1h2m0 -1h2m0 -1h2m0 -1h2m0 -1h2m0 -1h2m0 -1h2m0 -1h2m0 -1h2m0 -1h2m0 -1h2m0 -1h1m0 -1h1m0 -1h2m0 -1h1m0 -1h2m0 -1h2m0 -1h2m0 -1h2m0 -1h2m0 -1h2m0 -1h2m0 -1h2m0 -1h2m0 -1h2m0 -1h1m0 -1h2m0 -1h2m0 -1h2m0 -1h1m0 -1h2m0 -1h2m0 -1h2m0 -1h2m0 -1h2m0 -1h2m0 -1h3m0 -1h2m0 -1h2m0 -1h2m0 -1h2m0 -1h2m0 -1h2m0 -1h2m0 -1h2m0 -1h2m0 -1h2m0 -1h2m0 -1h2m0 -1h2m0 -1h1m0 -1h2m0 -1h2m0 -1h2m0 -1h2m0 -1h2m0 -1h2m0 -1h2m0 -1h2m0 -1h2m0 -1h2m0 -1h2m0 -1h2m0 -1h2m0 -1h3m0 -1h2m0 -1h2m0 -1h2m0 -1h2m0 -1h2m0 -1h2m0 -1h2m0 -1h2m0 -1h2m0 -1h3m0 -1h2m0 -1h2m0 -1h3m0 -1h4m0 -1h3m0 -1h2m0 -1h2m0 -1h3m0 -1h2m0 -1h2m0 -1h3m0 -1h2m0 -1h2m0 -1h3m0 -1h2m0 -1h2m0 -1h3m0 -1h2m0 -1h2m0 -1h3m0 -1h2m0 -1h2m0 -1h3m0 -1h2m0 -1h2m0 -1h3m0 -1h2m0 -1h2m0 -1h3m0 -1h2m0 -1h2m0 -1h3m0 -1h2m0 -1h2m0 -1h3m0 -1h2m0 -1h2m0 -1h5m0 -1h5m0 -1h4m0 -1h5m0 -1h7m0 -1h5m0 -1h4m0 -1h3m0 -1h4m0 -1h3m0 -1h2m0 -1h2m0 -1h3m0 -1h4m0 -1h3m0 -1h2m0 -1h2m0 -1h3m0 -1h4m0 -1h3m0 -1h2m0 -1h2m0 -1h3m0 -1h2m0 -1h2m0 -1h2m0 -1h2m0 -1h2m0 -1h2m0 -1h1m0 -1h2m0 -1h2m0 -1h2m0 -1h2m0 -1h2m0 -1h2m0 -1h3m0 -1h2m0 -1h2m0 -1h3m0 -1h4m0 -1h3m0 -1h4m0 -1h5m0 -1h5m0 -1h4m0 -1h5m0 -1h5m0 -1h4m0 -1h5m0 -1h5m0 -1h4m0 -1h5m0 -1h7m0 -1h4" transform="translate(0,.5)" fill="none" stroke="#808080" stroke-width="1" shape-rendering="crispEdges"/>
<path d="M66 276h2m0 1h2m0 1h2m0 1h3m0 1h4m0 1h3m0 1h2m0 1h2m0 1h3m0 1h2m0 1h2m0 1h3m0 1h2m0 1h2m0 1h3m0 1h4m0 1h3m0 1h4m0 1h3m0 1h4m0 1h3m0 1h4m0 1h3m0 1h4m0 1h12m0 -1h7m0 -1h7m0 -1h7m0 -1h26m0 1h4m0 1h5m0 1h7m0 1h7m0 1h5m0 1h4m0 1h3m0 1h4m0 1h2m0 1h2m0 1h2m0 1h2m0 1h2m0 1h2m0 1h2m0 1h3m0 1h2m0 1h2m0 1h2m0 1h2m0 1h2m0 1h2m0 1h2m0 1h2m0 1h2m0 1h5m0 1h7m0 1h7m0 1h5m0 1h4m0 1h3m0 1h4m0 1h2m0 1h2m0 1h2m0 1h2m0 1h1m0 1h2m0 1h1m0 1h1m0 1h2m0 1h1m0 1h1m0 1h1m0 1h2m0 1h1m0 1h1m0 1h1m0 1h1m0 1h1m0 1h2m0 1h1m0 1h1m0 1h1m0 1h2m0 1h1m0 1h1m0 1h2m0 1h1m0 1h2m0 1h1m0 1h1m0 1h2m0 1h1m0 1h2m0 1h2m0 1h2m0 1h2m0 1h2m0 1h2m0 1h2m0 1h2m0 1h2m0 1h2m0 1h2m0 1h2m0 1h2m0 1h2m0 1h2m0 1h2m0 1h2m0 1h2m0 1h2m0 1h2m0 1h3m0 1h2m0 1h2m0 1h2m0 1h2m0 1h2m0 1h2m0 1h2m0 1h2m0 1h2m0 1h2m0 1h2m0 1h2m0 1h2m0 1h2m0 1h2m0 1h2m0 1h2m0 1h2m0 1h2m0 1h2m0 1h2m0 1h2m0 1h2m0 1h3m0 1h2m0 1h2m0 1h3m0 1h2m0 1h2m0 1h3m0 1h2m0 1h2m0 1h2m0 1h2m0 1h2m0 1h2m0 1h1m0 1h2m0 1h2m0 1h2m0 1h1m0 1h2m0 1h1m0 1h1m0 1h2m0 1h1m0 1h2m0 1h1m0 1h1m0 1h2m0 1h2m0 1h2m0 1h2m0 1h2m0 1h2m0 1h2m0 1h2m0 1h2m0 1h2m0 1h2m0 1h2m0 1h2m0 1h2m0 1h2m0 1h1m0 1h2m0 1h1m0 1h1m0 1h2m0 1h1m0 1h1m0 1h1m0 1h2m0 1h1m0 1h1m0 1h1m0 1h2m0 1h1m0 1h1m0 1h2m0 1h1m0 1h1m0 1h1m0 1h2m0 1h1m0 1h1m0 1h1m0 1h2m0 1h1m0 1h1m0 1h2m0 1h1m0 1h1m0 1h1m0 1h2m0 1h1m0 1h1m0 1h1m0 1h2m0 1h1m0 1h1m0 1h2m0 1h1m0 1h2m0 1h1m0 1h1m0 1h2m0 1h1m0 1h2m0 1h2m0 1h2m0 1h1m0 1h2m0 1h2m0 1h2m0 1h1m0 1h2m0 1h2m0 1h2m0 1h1m0 1h2m0 1h2m0 1h2m0 1h2m0 1h2m0 1h2m0 1h3m0 1h2m0 1h2m0 1h3m0 1h2m0 1h2m0 1h3m0 1h4m0 1h3m0 1h2m0 1h2m0 1h3m0 1h4m0 1h5m0 1h7m0 1h7m0 1h5m0 1h4m0 1h5m0 1h14m0 1h7m0 1h5m0 1h4m0 1h5m0 1h7m0 1h5m0 1h4m0 1h5m0 1h14m0 1h28m0 1h14m0 -1h14m0 1h7m0 1h21m0 -1h7m0 1h7m0 -1h7m0 -1h7m0 -1h5m0 -1h4m0 -1h3m0 -1h4m0 -1h3m0 -1h2m0 -1h2m0 -1h3m0 -1h4m0 -1h3m0 -1h2m0 -1h2m0 -1h2m0 -1h2m0 -1h1m0 -1h1m0 -1h2m0 -1h1m0 -1h2m0 -1h1m0 -1h1m0 -1h2m0 -1h1m0 -1h2m0 -1h1m0 -1h1m0 -1h2m0 -1h1m0 -1h2m0 -1h1m0 -1h1m0 -1h2m0 -1h1m0 -1h1m0 -1h1m0 -1h2m0 -1h1m0 -1h1m0 -1h1m0 -1h2m0 -1h1m0 -1h1m0 -1h2m0 -1h1m0 -1h1m0 -1h1m0 -1h1m0 -1h1m0 -1h1m0 -1h1m0 -1h1m0 -1h2m0 -1h1m0 -1h1m0 -1h2m0 -1h1m0 -1h1m0 -1h1m0 -1h2m0 -1h1m0 -1h1m0 -1h1m0 -1h2m0 -1h1m0 -1h1m0 -1h2m0 -1h1m0 -1h1m0 -1h1m0 -1h2m0 -1h1m0 -1h1m0 -1h1m0 -1h2m0 -1h1m0 -1h1m0 -1h2m0 -1h1m0 -1h2m0 -1h1m0 -1h1m0 -1h2m0 -1h1m0 -1h2m0 -1h1m0 -1h1m0 -1h2m0 -1h1m0 -1h2m0 -1h2m0 -1h2m0 -1h2m0 -1h2m0 -1h2m0 -1h2m0 -1h2m0 -1h2m0 -1h2m0 -1h1m0 -1h2m0 -1h1m0 -1h1m0 -1h2m0 -1h2m0 -1h2m0 -1h2m0 -1h3m0 -1h2m0 -1h2m0 -1h2m0 -1h2m0 -1h2m0 -1h2m0 -1h2m0 -1h2m0 -1h2m0 -1h2m0 -1h2m0 -1h2m0 -1h2m0 -1h1m0 -1h2m0 -1h2m0 -1h2m0 -1h1m0 -1h2m0 -1h2m0 -1h2m0 -1h1m0 -1h1m0 -1h1m0 -1h2m0 -1h1m0 -1h1m0 -1h1m0 -1h2m0 -1h1m0 -1h1m0 -1h2m0 -1h1m0 -1h1m0 -1h1m0 -1h2m0 -1h1m0 -1h1m0 -1h1m0 -1h2m0 -1h1m0 -1h1m0 -1h2m0 -1h1m0 -1h2m0 -1h1m0 -1h1m0 -1h2m0 -1h1m0 -1h1m0 -1h1m0 -1h2m0 -1h1m0 -1h1m0 -1h1m0 -1h1m0 -1h1m0 -1h2m0 -1h1m0 -1h1m0 -1h1m0 -1h1m0 -1h1m0 -1h1m0 -1h1m0 -1h1m0 -1h1m0 -1h1m0 -1h1m0 -1h1m0 -1h2m0 -1h1m0 -1h1m0 -1h1m0 -1h1m0 -1h1m0 -1h1m0 -1h1m0 -1h1m0 -1h1m0 -1h1m0 -1h1m0 -1h1m0 -1h1m0 -1h1m0 -1h1m0 -1h1m0 -1h1m0 -1h1m0 -1h1m0 -1h1m0 -1h1m0 -1h1m0 -1h1m0 -1h1m0 -1h1m0 -1h1m0 -1h2m0 -1h1m0 -1h1m0 -1h1m0 -1h1m0 -1h1m0 -1h2m0 -1h1m0 -1h1m0 -1h1m0 -1h1m0 -1h1m0 -1h1m0 -1h1m0 -1h1m0 -1h1m0 -1h1m0 -1h2m0 -1h1m0 -1h1m0 -1h2m0 -1h1m0 -1h2m0 -1h1m0 -1h1m0 -1h2m0 -1h1m0 -1h2m0 -1h1m0 -1h1m0 -1h2m0 -1h2m0 -1h2m0 -1h2m0 -1h2m0 -1h2m0 -1h2m0 -1h2m0 -1h1m0 -1h2m0 -1h2m0 -1h2m0 -1h1m0 -1h2m0 -1h2m0 -1h2m0 -1h1m0 -1h2m0 -1h1m0 -1h1m0 -1h2m0 -1h1m0 -1h2m0 -1h2m0 -1h2m0 -1h2m0 -1h2m0 -1h2m0 -1h3m0 -1h2m0 -1h2m0 -1h2m0 -1h2m0 -1h2m0 -1h2m0 -1h1m0 -1h2m0 -1h2m0 -1h2m0 -1h2m0 -1h4m0 -1h3m0 -1h2m0 -1h2m0 -1h3m0 -1h2m0 -1h2m0 -1h3m0 -1h2m0 -1h2m0 -1h3m0 -1h2m0 -1h2m0 -1h3m0 -1h2m0 -1h2m0 -1h2m0 -1h2m0 -1h2m0 -1h2m0 -1h4m0 -1h7m0 -1h5m0 -1h4m0 -1h3m0 -1h4m0 -1h3m0 -1h4m0 -1h5m0 -1h7m0 1h7m0 1h5m0 1h4m0 1h5m0 1h7m0 1h42m0 -1h7m0 1h5m0 -1h2m0 -1h2m0 -1h5m0 -1h7m0 -1h7m0 -1h14m0 1h5m0 1h4m0 1h2m0 1h2m0 1h2m0 1h2m0 1h1m0 1h2m0 1h2m0 1h2m0 1h2m0 1h2m0 1h2m0 1h3m0 1h2m0 1h2m0 1h3m0 1h2m0 1h2m0 1h3m0 1h2m0 1h2m0 1h2m0 1h2m0 1h1m0 1h1m0 1h2m0 1h1" transform="translate(0,.5)" fill="none" stroke="#ff8000" stroke-width="1" shape-rendering="crispEdges"/>
<path d="M66 296h2m0 1h4m0 1h5m0 1h5m0 1h4m0 1h3m0 1h2m0 1h2m0 1h3m0 1h2m0 1h2m0 1h5m0 1h7m0 1h7m0 1h5m0 1h4m0 1h5m0 -1h14m0 1h7m0 1h18m0 1h2m0 1h2m0 1h2m0 1h11m0 1h7m0 1h7m0 1h4m0 1h2m0 1h2m0 1h2m0 1h2m0 1h2m0 1h2m0 1h3m0 1h2m0 1h2m0 1h5m0 1h5m0 1h4m0 1h5m0 1h4m0 1h2m0 1h2m0 1h2m0 1h2m0 1h2m0 1h2m0 1h2m0 1h2m0 1h2m0 1h2m0 1h1m0 1h2m0 1h1m0 1h1m0 1h2m0 1h2m0 1h4m0 1h5m0 1h7m0 1h5m0 1h4m0 1h2m0 1h1m0 1h1m0 1h2m0 1h1m0 1h1m0 1h1m0 1h1m0 1h1m-1 1h1m0 1h1m0 1h1m0 1h1m-1 1h1m0 1h1m0 1h1m0 1h1m-1 1h1m0 1h1m0 1h1m0 1h1m-1 1h1m0 1h1m0 1h1m-1 1h1m0 1h1m0 1h1m-1 1h1m0 1h1m0 1h1m0 1h1m-1 1h1m0 1h1m0 1h1m-1 1h1m0 1h1m0 1h1m0 1h1m-1 1h1m0 1h1m0 1h1m0 1h1m-1 1h1m0 1h1m0 1h1m0 1h1m-1 1h1m0 1h1m0 1h1m0 1h1m-1 1h1m0 1h1m0 1h1m-1 1h1m0 1h1m0 1h1m0 1h1m0 1h2m0 1h1m0 1h1m0 1h1m0 1h1m0 1h1m0 1h1m0 1h1m-1 1h1m0 1h1m0 1h1m0 1h1m0 1h1m0 1h1m0 1h1m0 1h1m-1 1h1m0 1h1m0 1h1m0 1h1m0 1h1m0 1h1m0 1h2m0 1h1m0 1h1m0 1h1m0 1h1m0 1h1m0 1h2m0 1h1m0 1h1m0 1h1m0 1h2m0 1h2m0 1h2m0 1h1m0 1h1m0 1h1m0 1h2m0 1h1m0 1h1m0 1h1m0 1h2m0 1h1m0 1h1m0 1h2m0 1h1m0 1h1m0 1h1m0 1h2m0 1h1m0 1h1m0 1h1m0 1h2m0 1h2m0 1h2m0 1h1m0 1h2m0 1h1m0 1h1m0 1h2m0 1h1m0 1h1m0 1h1m0 1h2m0 1h1m0 1h1m0 1h2m0 1h4m0 1h2m0 1h2m0 1h1m0 1h1m0 1h2m0 1h1m0 1h2m0 1h1m0 1h1m0 1h2m0 1h1m0 1h2m0 1h2m0 1h2m0 1h1m0 1h2m0 1h1m0 1h1m0 1h2m0 1h1m0 1h2m0 1h1m0 1h1m0 1h2m0 1h1m0 1h2m0 1h2m0 1h2m0 1h1m0 1h2m0 1h1m0 1h1m0 1h2m0 1h1m0 1h2m0 1h1m0 1h1m0 1h2m0 1h1m0 1h2m0 1h1m0 1h1m0 1h2m0 1h1m0 1h1m0 1h1m0 1h2m0 1h1m0 1h1m0 1h1m0 1h2m0 1h1m0 1h1m0 1h2m0 1h1m0 1h2m0 1h1m0 1h1m0 1h2m0 1h4m0 1h5m0 1h4m0 1h10m0 1h4m0 1h3m0 1h2m0 1h2m0 1h2m0 1h2m0 1h2m0 1h2m0 1h4m0 1h12m0 1h4m0 1h3m0 1h4m0 1h3m0 1h2m0 1h2m0 1h12m0 1h12m0 1h4m0 1h12m0 -1h7m0 -1h5m0 -1h2m0 -1h2m0 -1h3m0 -1h4m0 -1h3m0 -1h4m0 -1h3m0 -1h4m0 -1h2m0 -1h2m0 -1h1m0 -1h1m0 -1h2m0 -1h2m0 -1h2m0 -1h2m0 -1h3m0 -1h4m0 -1h5m0 -1h5m0 -1h2m0 -1h2m0 -1h3m0 -1h2m0 -1h2m0 -1h3m0 -1h4m0 -1h3m0 -1h2m0 -1h2m0 -1h12m0 -1h7m0 -1h7m0 -1h5m0 -1h4m0 -1h3m0 -1h2m0 -1h2m0 -1h5m0 -1h5m0 -1h4m0 -1h5m0 -1h7m0 -1h5m0 -1h4m0 -1h12m0 -1h14m0 -1h7m0 -1h5m0 -1h4m0 -1h5m0 -1h5m0 -1h4m0 -1h5m0 -1h5m0 -1h2m0 -1h2m0 -1h3m0 -1h2m0 -1h2m0 -1h5m0 -1h4m0 -1h1m0 -1h1m0 -1h1m0 -1h1m0 -1h1m0 -1h1m0 -1h1m0 -1h1m0 -1h1m0 -1h1m0 -1h1m0 -1h1m0 -1h1m0 -1h1m0 -1h1m0 -2h1m-1 1h1m0 -2h1m0 -1h1m0 -2h1m-1 1h1m0 -2h1m0 -1h1m0 -1h1m0 -2h1m-1 1h1m0 -2h1m0 -1h1m0 -2h1m-1 1h1m0 -2h1m0 -1h1m0 -1h1m0 -1h1m0 -1h1m0 -1h1m0 -1h1m0 -1h1m0 -1h1m0 -1h1m0 -2h1m-1 1h1m0 -2h1m0 -1h1m0 -2h1m-1 1h1m0 -2h1m0 -1h1m0 -2h1m-1 1h1m0 -2h1m0 -1h1m0 -2h1m-1 1h1m0 -2h1m0 -2h1m-1 1h1m0 -2h1m0 -2h1m-1 1h1m0 -2h1m0 -2h1m-1 1h1m0 -3h1m-1 1h1m0 -2h1m0 -2h1m-1 1h1m0 -2h1m0 -2h1m-1 1h1m0 -2h1m0 -1h1m0 -2h1m-1 1h1m0 -2h1m0 -2h1m-1 1h1m0 -2h1m0 -2h1m-1 1h1m0 -2h1m0 -2h1m-1 1h1m0 -3h1m-1 1h1m0 -2h1m0 -2h1m-1 1h1m0 -2h1m0 -2h1m-1 1h1m0 -2h1m0 -1h1m0 -2h1m-1 1h1m0 -2h1m0 -2h1m-1 1h1m0 -2h1m0 -1h1m0 -1h1m0 -1h1m0 -2h1m-1 1h1m0 -2h1m0 -1h1m0 -1h1m0 -1h1m0 -1h1m0 -1h1m0 -2h1m-1 1h1m0 -2h1m0 -1h1m0 -1h1m0 -1h1m0 -1h1m0 -1h1m0 -1h1m0 -1h1m0 -1h1m0 -1h1m0 -1h1m0 -1h1m0 -1h2m0 -1h1m0 -1h1m0 -1h1m0 -1h1m0 -1h1m0 -1h2m0 -1h1m0 -1h1m0 -1h1m0 -1h1m0 -1h1m0 -1h1m0 -1h1m0 -1h1m0 -1h1m0 -1h1m0 -1h1m0 -1h1m0 -1h1m0 -2h1m-1 1h1m0 -2h1m0 -1h1m0 -1h1m0 -1h2m0 -1h1m0 -1h1m0 -1h2m0 -1h1m0 -1h1m0 -1h1m0 -1h1m0 -1h1m0 -1h1m0 -1h1m0 -1h1m0 -1h1m0 -1h1m0 -1h2m0 -1h1m0 -1h1m0 -1h1m0 -1h1m0 -1h1m0 -1h1m0 -1h1m0 -1h1m0 -1h1m0 -1h1m0 -1h1m0 -1h1m0 -1h2m0 -1h1m0 -1h1m0 -1h1m0 -1h2m0 -1h1m0 -1h1m0 -1h2m0 -1h1m0 -1h1m0 -1h1m0 -1h1m0 -2h1m-1 1h1m0 -2h1m0 -1h1m0 -1h1m0 -2h1m-1 1h1m0 -2h1m0 -1h1m0 -2h1m-1 1h1m0 -2h1m0 -2h1m-1 1h1m0 -2h1m0 -1h1m0 -2h1m-1 1h1m0 -2h1m0 -1h1m0 -2h1m-1 1h1m0 -2h1m0 -1h1m0 -1h1m0 -2h1m-1 1h1m0 -2h1m0 -1h1m0 -2h1m-1 1h1m0 -2h1m0 -1h1m0 -1h1m0 -1h1m0 -1h1m0 -2h1m-1 1h1m0 -2h1m0 -1h1m0 -1h1m0 -1h1m0 -2h1m-1 1h1m0 -2h1m0 -1h1m0 -2h1m-1 1h1m0 -2h1m0 -1h1m0 -1h2m0 -1h2m0 -1h2m0 -1h1m0 -1h2m0 -1h1m0 -1h1m0 -1h2m0 -1h1m0 -1h2m0 -1h2m0 -1h2m0 -1h1m0 -1h2m0 -1h1m0 -1h1m0 -1h2m0 -1h1m0 -1h1m0 -1h1m0 -1h2m0 -1h1m0 -1h1m0 -1h1m0 -1h2m0 -1h2m0 -1h2m0 -1h1m0 -1h2m0 -1h2m0 -1h2m0 -1h2m0 -1h4m0 -1h3m0 -1h4m0 -1h3m0 -1h4m0 -1h3m0 -1h4m0 -1h3m0 -1h4m0 -1h12m0 -1h7m0 -1h5m0 -1h4m0 -1h5m0 -1h5m0 -1h4m0 -1h3m0 -1h4m0 -1h5m0 -1h14m0 -1h19m0 1h2m0 1h2m0 1h3m0 1h2m0 1h2m0 1h3m0 1h2m0 1h2m0 1h3m0 1h4m0 1h3m0 1h2m0 1h2m0 1h5m0 1h5m0 1h2m0 1h2m0 1h5m0 1h7m0 1h5m0 1h4m0 1h5m0 1h7m0 1h4m0 1h1m0 1h1m0 1h1m0 1h1m0 1h1m0 1h1m0 1h1m0 1h2m0 1h2m0 1h2m0 1h1m0 1h2m0 1h1m0 1h1m0 1h2m0 1h1m0 1h2m0 1h1m0 1h1m0 1h2m0 1h2m0 1h2m0 1h2m0 1h3m0 1h2m0 1h2m0 1h5m0 1h7m0 1h14m0 1h7m0 1h5m0 1h4m0 1h3m0 -1h4m0 -1h3m0 -1h2m0 -1h2m0 -1h3m0 -1h4m0 -1h12m0 1h7m0 1h5m0 1h4m0 1h2m0 1h2m0 1h2m0 1h2m0 1h1m0 1h2m0 1h1m0 1h1m0 1h2m0 1h2m0 1h2m0 1h2m0 1h3m0 1h2m0 1h2m0 1h2m0 1h2m0 1h1m0 1h1m0 1h2m0 1h1m0 1h2m0 1h1m0 1h1m0 1h2m0 1h1m0 1h1m0 1h1m0 1h1m0 1h1m0 1h1m0 1h1m0 1h1" transform="translate(0,.5)" fill="none" stroke="#ff00ff" stroke-width="1" shape-rendering="crispEdges"/>
<path d="M66 322h1m0 1h1m0 1h1m-1 1h1m0 1h1m0 1h1m0 1h1m-1 1h1m0 1h1m0 1h1m-1 1h1m0 1h1m-1 1h1m-1 1h1m0 1h1m-1 1h1m0 1h1m-1 1h1m-1 1h1m0 1h1m-1 1h1m-1 1h1m0 1h1m-1 1h1m0 1h1m-1 1h1m-1 1h1m0 1h1m-1 1h1m0 1h1m-1 1h1m0 1h1m-1 1h1m0 1h1m-1 1h1m0 1h1m-1 1h1m0 1h1m-1 1h1m0 1h1m-1 1h1m0 1h1m0 1h2m0 1h2m0 1h2m0 1h1m0 -1h1m0 -1h1m0 -1h2m0 -1h1m0 -1h1m0 -1h1m0 -1h1m0 -2h1m-1 1h1m0 -2h1m0 -1h1m0 -2h1m-1 1h1m0 -2h1m0 -1h1m0 -1h1m0 -1h1m0 -1h1m0 -1h1m0 -1h1m0 -1h1m0 -1h1m0 -1h2m0 -1h2m0 -1h2m0 -1h4m0 -1h4m0 -1h1m0 -1h1m0 -1h1m0 -1h1m0 -1h1m0 -1h1m0 -1h1m0 -2h1m-1 1h1m0 -3h1m-1 1h1m0 -2h1m0 -2h1m-1 1h1m0 -3h1m-1 1h1m0 -3h1m-1 1h1m0 -3h1m-1 1h1m0 -3h1m-1 1h1m0 -4h1m-1 1h1m-1 1h1m0 -4h1m-1 1h1m0 -3h1m-1 1h1m0 -4h1m-1 1h1m-1 1h1m0 -4h1m-1 1h1m0 -3h1m-1 1h1m0 -3h1m-1 1h1m0 -3h1m-1 1h1m0 -2h1m0 -2h1m-1 1h1m0 -3h1m-1 1h1m0 -3h1m-1 1h1m0 -2h1m0 -2h1m-1 1h1m0 -3h1m-1 1h1m0 -3h1m-1 1h1m0 -3h1m-1 1h1m0 -3h1m-1 1h1m0 -3h1m-1 1h1m0 -2h4m0 -1h4m0 1h2m0 1h1m0 1h1m0 1h2m0 1h1m0 1h2m0 1h2m0 1h2m0 1h1m0 1h1m0 1h1m0 1h2m0 1h1m0 1h1m0 1h1m0 1h2m0 1h1m0 1h1m0 1h2m0 1h1m0 1h1m-1 1h1m0 1h1m0 1h1m-1 1h1m0 1h1m-1 1h1m0 1h1m0 1h1m-1 1h1m0 1h1m0 1h1m0 1h1m0 1h1m0 1h1m-1 1h1m0 1h1m0 1h1m0 1h1m0 1h2m0 1h2m0 1h2m0 1h1m-1 1h1m0 1h1m-1 1h1m0 1h1m-1 1h1m0 1h1m-1 1h1m0 1h1m-1 1h1m-1 1h1m0 1h1m-1 1h1m0 1h1m-1 1h1m0 1h1m-1 1h1m0 1h1m-1 1h1m0 1h1m-1 1h1m0 1h1m0 1h1m-1 1h1m0 1h1m-1 1h1m0 1h1m-1 1h1m0 1h1m0 1h1m-1 1h1m0 1h1m0 1h1m-1 1h1m0 1h1m-1 1h1m0 1h1m0 1h1m-1 1h1m0 1h1m0 1h1m0 1h1m-1 1h1m0 1h1m0 1h1m0 1h1m-1 1h1m0 1h1m0 1h1m0 1h1m-1 1h1m0 1h1m0 1h1m-1 1h1m0 1h1m-1 1h1m0 1h1m0 1h1m-1 1h1m0 1h1m0 1h1m-1 1h1m0 1h1m0 1h1m0 1h1m-1 1h1m0 1h1m0 1h1m-1 1h1m0 1h1m0 1h1m-1 1h1m0 1h1m-1 1h1m0 1h1m-1 1h1m0 1h1m-1 1h1m0 1h1m-1 1h1m0 1h1m-1 1h1m0 1h1m-1 1h1m0 1h1m0 1h1m0 1h1m0 1h1m-1 1h1m0 1h1m0 1h1m0 1h1m0 1h1m-1 1h1m0 1h1m0 1h1m0 1h1m-1 1h1m0 1h1m0 1h1m-1 1h1m0 1h1m0 1h1m-1 1h1m0 1h1m-1 1h1m0 1h1m0 1h1m-1 1h1m0 1h1m-1 1h1m0 1h1m-1 1h1m0 1h4m0 1h4m0 1h1m0 1h1m0 1h2m0 1h1m0 1h1m0 1h1m0 1h1m0 1h1m-1 1h1m0 1h1m0 1h1m0 1h1m-1 1h1m0 1h1m0 1h1m0 1h1m-1 1h1m0 1h1m-1 1h1m0 1h1m0 1h1m-1 1h1m0 1h1m-1 1h1m0 1h1m-1 1h1m0 1h1m0 1h1m-1 1h1m0 1h1m-1 1h1m0 1h1m-1 1h1m0 1h1m-1 1h1m0 1h1m-1 1h1m0 1h1m-1 1h1m0 1h1m-1 1h1m0 1h1m-1 1h1m0 1h1m-1 1h1m0 1h1m-1 1h1m0 1h1m-1 1h1m0 1h1m-1 1h1m0 1h1m-1 1h1m0 1h1m0 1h1m0 1h1m-1 1h1m0 1h1m0 1h1m0 1h1m-1 1h1m0 1h1m0 1h1m0 1h1m-1 1h1m0 1h1m0 1h1m0 1h1m-1 1h1m0 1h1m0 1h1m-1 1h1m0 1h4m0 1h4m0 1h1m0 1h1m0 1h1m0 1h1m-1 1h1m0 1h1m0 1h1m0 1h1m0 1h1m0 1h1m0 1h2m0 1h1m0 1h1m0 1h2m0 1h4m0 1h3m0 -1h2m0 -1h2m0 -1h2m0 -1h1m0 -1h1m0 -1h1m0 -2h1m-1 1h1m0 -2h1m0 -1h1m0 -1h1m0 -1h1m0 -1h1m0 -1h1m0 -1h1m0 -1h1m0 -1h1m0 -1h1m0 -1h1m0 -1h1m0 -1h1m0 -2h1m-1 1h1m0 -2h1m0 -1h1m0 -1h1m0 -1h2m0 -1h1m0 -1h1m0 -1h2m0 -1h1m0 -1h1m0 -1h1m0 -1h1m0 -1h1m0 -1h1m0 -1h1m0 -1h1m0 1h2m0 1h2m0 1h2m0 1h2m0 -1h4m0 -1h3m0 -1h4m0 -1h2m0 1h1m0 1h1m-1 1h1m0 1h1m0 1h1m0 1h1m-1 1h1m0 1h1m0 1h1m0 1h1m0 1h1m0 1h1m0 1h1m-1 1h1m0 1h1m0 1h1m0 1h1m0 1h1m0 1h1m-1 1h1m0 1h1m0 1h1m0 1h1m-1 1h1m0 1h1m0 1h1m0 1h1m0 1h1m0 1h2m0 1h1m0 1h1m0 1h1m0 1h1m-1 1h1m0 1h1m0 1h1m-1 1h1m0 1h1m-1 1h1m0 1h1m0 1h1m-1 1h1m0 1h1m0 1h1m0 1h1m-1 1h1m0 1h1m0 1h1m0 1h1m-1 1h1m0 1h1m0 1h1m0 1h1m-1 1h1m0 1h1m0 1h1m-1 1h1m0 1h1m-1 1h1m0 1h1m0 1h1m-1 1h1m0 1h1m0 1h1m-1 1h1m0 1h1m0 1h1m-1 1h1m0 1h1m-1 1h1m0 1h1m0 1h1m-1 1h1m0 1h1m0 1h1m0 1h1m-1 1h1m0 1h1m0 1h1m0 1h1m-1 1h1m0 1h1m0 1h1m0 1h1m-1 1h1m0 1h1m-1 1h1m0 1h1m-1 1h1m0 1h1m-1 1h1m0 1h1m-1 1h1m0 1h1m-1 1h1m0 1h1m0 1h2m0 1h2m0 1h2m0 1h1m0 1h1m0 1h1m-1 1h1m0 1h1m0 1h1m0 1h1m-1 1h1m0 1h1m0 1h1m0 1h2m0 1h2m0 1h2m0 1h1m0 1h2m0 1h1m0 1h1m0 1h2m0 1h11m0 1h4m0 1h2m0 1h2m0 1h2m0 1h2m0 -1h2m0 -1h2m0 -1h2m0 -1h2m0 -1h1m0 -1h1m0 -1h2m0 -1h1m0 -1h1m0 -2h1m-1 1h1m0 -2h1m0 -1h1m0 -2h1m-1 1h1m0 -2h1m0 -1h1m0 -1h1m0 -1h1m0 -1h1m0 -2h1m-1 1h1m0 -2h1m0 -1h1m0 -1h1m0 -2h1m-1 1h1m0 -2h1m0 -2h1m-1 1h1m0 -3h1m-1 1h1m0 -2h1m0 -2h1m-1 1h1m0 -2h2m0 -1h2m0 -1h2m0 -1h2m0 -2h1m-1 1h1m0 -3h1m-1 1h1m0 -2h1m0 -2h1m-1 1h1m0 -3h1m-1 1h1m0 -3h1m-1 1h1m0 -2h1m0 -1h1m0 -1h1m0 -1h1m0 -2h1m-1 1h1m0 -2h1m0 -1h1m0 -1h1m0 -1h1m0 -2h1m-1 1h1m0 -2h1m0 -1h1m0 -2h1m-1 1h1m0 -2h1m0 -1h1m0 -2h1m-1 1h1m0 -2h1m0 -1h1m0 -2h1m-1 1h1m0 -2h1m0 -2h1m-1 1h1m0 -2h1m0 -1h1m0 -1h1m0 -1h1m0 -2h1m-1 1h1m0 -2h1m0 -1h1m0 -1h1m0 -1h1m0 -1h1m0 -1h1m0 -1h1m0 -1h1m0 -1h1m0 -1h1m0 -1h1m0 -1h1m0 -1h2m0 -1h1m0 -1h1m0 -1h1m0 -1h2m0 -1h1m0 -1h1m0 -1h2m0 -1h1m0 -1h2m0 -1h1m0 -1h1m0 -1h2m0 -1h1m0 -1h1m0 -1h1m0 -1h1m0 -1h1m0 -1h1m0 -1h1m0 -1h8m0 -1h2m0 -1h1m0 -1h1m0 -1h2m0 -1h2m0 -1h4m0 -1h5m0 1h4m0 1h2m0 1h1m0 1h1m0 1h2m0 1h1m0 1h1m0 1h1m0 1h2m0 1h1m0 1h1m0 1h1m0 1h1m0 1h1m0 1h2m0 1h1m0 1h1m0 1h1m0 1h2m0 1h1m0 1h1m0 1h2m0 1h1m0 1h1m0 1h1m-1 1h1m0 1h1m0 1h1m0 1h1m-1 1h1m0 1h1m0 1h1m0 1h1m0 1h1m-1 1h1m0 1h1m0 1h1m0 1h1m-1 1h1m0 1h1m0 1h1m0 1h1m0 1h1m-1 1h1m0 1h1m0 1h1m0 1h1m-1 1h1m0 1h1m0 1h1m0 1h1m-1 1h1m0 1h1m0 1h1m-1 1h1m0 1h1m-1 1h1m0 1h1m0 1h1m-1 1h1m0 1h1m0 1h1m0 1h1m0 1h1m0 1h1m0 1h1m0 1h1m0 1h2m0 1h2m0 1h2m0 1h2m0 -1h2m0 -1h1m0 -1h1m0 -1h2m0 -1h1m0 -1h2m0 -1h1m0 -1h1m0 -1h2m0 -1h2m0 -1h2m0 -1h2m0 -1h2m0 -1h2m0 -1h1m0 -1h1m0 -1h2m0 -1h1m0 -1h1m0 -1h1m0 -1h2m0 -1h1m0 -1h1m0 -1h1m0 -1h1m0 -1h1m0 -1h1m0 -2h1m-1 1h1m0 -2h1m0 -1h1m0 -1h1m0 -1h1m0 -1h1m0 -1h1m0 -2h1m-1 1h1m0 -2h1m0 -1h1m0 -1h1m0 -1h1m0 -2h1m-1 1h1m0 -2h1m0 -1h1m0 -2h1m-1 1h1m0 -2h1m0 -1h1m0 -1h1m0 -1h1m0 -1h1m0 -1h1m0 -1h1m0 -1h1m0 -1h1m0 -1h1m0 -1h1m0 -1h2m0 -1h1m0 -1h1m0 -1h1m0 -1h2m0 -1h2m0 -1h2m0 -1h1m0 -1h1m0 -1h1m0 -1h1m0 -1h1m0 -1h1m0 -1h1m0 -1h1m0 -1h2m0 -1h1m0 -1h1m0 -1h2m0 -1h1m0 -1h2m0 -1h1m0 -1h1m0 -1h2m0 -1h1m0 -1h1m0 -1h1m0 -1h1m0 -1h1m0 -1h1m0 -1h1m0 -1h1m0 -1h1m0 -2h1m-1 1h1m0 -2h1m0 -1h1m0 -2h1m-1 1h1m0 -2h1m0 -1h1m0 -2h1m-1 1h1m0 -2h1m0 -1h1m0 -2h1m-1 1h1m0 -2h1m0 -2h1m-1 1h1m0 -2h1m0 -1h1m0 -1h1m0 -1h2m0 -1h1m0 -1h1m0 -2h1m-1 1h1m0 -4h1m-1 1h1m-1 1h1m0 -5h1m-1 1h1m-1 1h1m0 -4h1m-1 1h1m0 -4h1m-1 1h1m-1 1h1m0 -5h1m-1 1h1m-1 1h1m0 -5h1m-1 1h1m-1 1h1m0 -5h1m-1 1h1m-1 1h1m0 -5h1m-1 1h1m-1 1h1m0 -5h1m-1 1h1m-1 1h1m0 -4h1m-1 1h1m0 -4h1m-1 1h1m-1 1h1m0 -5h1m-1 1h1m-1 1h1m0 -5h1m-1 1h1m-1 1h1m0 -5h1m-1 1h1m-1 1h1m0 -4h1m-1 1h1m0 -4h1m-1 1h1m-1 1h1m0 -4h1m-1 1h1m0 -4h1m-1 1h1m-1 1h1m0 -5h1m-1 1h1m-1 1h1m0 -4h1m-1 1h1m0 -3h1m-1 1h1m0 -3h1m-1 1h1m0 -3h1m-1 1h1m0 -3h1m-1 1h1m0 -3h1m-1 1h1m0 -3h1m-1 1h1m0 -3h1m-1 1h1m0 -2h1m0 -2h1m-1 1h1m0 -3h1m-1 1h1m0 -3h1m-1 1h1m0 -3h1m-1 1h1m0 -3h1m-1 1h1m0 -3h1m-1 1h1m0 -4h1m-1 1h1m-1 1h1m0 -4h1m-1 1h1m0 -4h1m-1 1h1m-1 1h1m0 -4h1m-1 1h1m0 -4h1m-1 1h1m-1 1h1m0 -5h1m-1 1h1m-1 1h1m0 -4h1m-1 1h1m0 -4h1m-1 1h1m-1 1h1m0 -4h1m-1 1h1m0 -4h1m-1 1h1m-1 1h1m0 -4h1m-1 1h1m0 -3h1m-1 1h1m0 -4h1m-1 1h1m-1 1h1m0 -4h1m-1 1h1m0 -3h1m-1 1h1m0 -3h1m-1 1h1m0 -3h1m-1 1h1m0 -3h1m-1 1h1m0 -3h1m-1 1h1m0 -3h1m-1 1h1m0 -3h1m-1 1h1m0 -3h1m-1 1h1m0 -3h1m-1 1h1m0 -3h1m-1 1h1m0 -3h1m-1 1h1m0 -3h1m-1 1h1m0 -3h1m-1 1h1m0 -3h1m-1 1h1m0 -4h1m-1 1h1m-1 1h1m0 -4h1m-1 1h1m0 -4h1m-1 1h1m-1 1h1m0 -4h1m-1 1h1m0 -3h1m-1 1h1m0 -4h1m-1 1h1m-1 1h1m0 -4h1m-1 1h1m0 -3h2m-2 1h1m1 -2h4m0 -1h5m0 1h5m0 -1h4m0 -1h16m0 1h2m0 1h2m0 1h2m0 1h2m0 1h2m0 1h2m0 1h5m0 1h4m0 1h1m0 1h1m0 1h2m0 1h1m0 1h1m0 1h1m0 1h2m0 1h1m0 1h1m0 1h2m0 1h2m0 1h2m0 1h2m0 1h5m0 -1h7m0 1h5m0 -1h4m0 -1h2m0 -2h1m-1 1h1m0 -2h1m0 -1h1m0 -2h1m-1 1h1m0 -2h1m0 -2h1m-1 1h1m0 -3h1m-1 1h1m0 -3h1m-1 1h1m0 -3h1m-1 1h1m0 -3h1m-1 1h1m0 -3h1m-1 1h1m0 -3h1m-1 1h1m0 -3h1m-1 1h1m0 -4h1m-1 1h1m-1 1h1m0 -4h1m-1 1h1m0 -3h1m-1 1h1m0 -3h1m-1 1h1m0 -4h1m-1 1h1m-1 1h1m0 -4h1m-1 1h1m0 -3h1m-1 1h1m0 -3h1m-1 1h1m0 -3h1m-1 1h1m0 -2h1m0 -2h1m-1 1h1m0 -3h1m-1 1h1m0 -2h1m0 -2h1m-1 1h1m0 -3h1m-1 1h1m0 -3h1m-1 1h1m0 -4h1m-1 1h1m-1 1h1m0 -4h1m-1 1h1m0 -4h1m-1 1h1m-1 1h1m0 -5h1m-1 1h1m-1 1h1m0 -4h1m-1 1h1m0 -3h1m-1 1h1m0 -3h1m-1 1h1m0 -3h1m-1 1h1m0 -3h1m-1 1h1m0 -3h1m-1 1h1m0 -3h1m-1 1h1m0 -3h1m-1 1h1m0 -3h1m-1 1h1m0 -3h1m-1 1h1m0 -3h1m-1 1h1m0 -3h1m-1 1h1m0 -3h1m-1 1h1m0 -3h1m-1 1h1m0 -3h1m-1 1h1m0 -3h1m-1 1h1m0 -3h1m-1 1h1m0 -3h1m-1 1h1m0 -3h1m-1 1h1m0 -3h1m-1 1h1m0 -3h1m-1 1h1m0 -3h1m-1 1h1m0 -2h1m0 -2h1m-1 1h1m0 -2h1m0 -2h1m-1 1h1m0 -3h1m-1 1h1m0 -2h1m0 -2h1m-1 1h1m0 -2h1m0 -2h1m-1 1h1m0 -3h1m-1 1h1m0 -3h1m-1 1h1m0 -3h1m-1 1h1m0 -3h1m-1 1h1m0 -3h1m-1 1h1m0 -3h1m-1 1h1m0 -2h1m0 -1h1m0 -1h2m0 -1h1m0 -1h1m0 -1h2m0 -1h2m0 -1h2m0 -1h5m0 1h4m0 1h2m0 1h2m0 1h2m0 1h1m0 1h1m0 1h1m0 1h2m0 1h1m0 1h1m0 1h2m0 1h2m0 1h2m0 1h2m0 1h2m0 1h1m0 1h1m0 1h2m0 1h1m0 1h1m0 1h1m0 1h1m0 1h1m-1 1h1m0 1h1m0 1h1m0 1h1m0 1h1m-1 1h1m0 1h1m0 1h1m0 1h1m-1 1h1m0 1h1m0 1h1m-1 1h1m0 1h1m0 1h1m-1 1h1m0 1h1m-1 1h1m0 1h1m-1 1h1m0 1h1m-1 1h1m0 1h1m-1 1h1m0 1h1m-1 1h1m0 1h1m-1 1h1m0 1h1m-1 1h1m0 1h1m-1 1h1m0 1h1m0 1h1m-1 1h1m0 1h1m-1 1h1m0 1h1m-1 1h1m0 1h1m0 1h1m-1 1h1m0 1h1m-1 1h1m0 1h1m0 1h1m-1 1h1m0 1h1m-1 1h1m0 1h1m-1 1h1m0 1h1m0 1h1m-1 1h1m0 1h1m0 1h1m0 1h1m-1 1h1m0 1h1m0 1h1m-1 1h1m0 1h1m0 1h2m0 1h2m0 1h2m0 1h1m0 1h1m0 1h1m0 1h2m0 1h1m0 1h1m0 1h1m0 1h1m0 1h1m0 1h1m0 1h1m-1 1h1m0 1h1m0 1h1m0 1h1m0 1h1m0 1h1m-1 1h1m0 1h1m0 1h1m0 1h1m-1 1h1m0 1h1m0 1h4m0 1h19m0 1h2m0 1h2m0 1h10m0 -1h2m0 -1h2m0 -1h5m0 1h5m0 -1h2m0 -1h2m0 -1h2m0 -1h1m0 -1h1m0 -1h1m0 -2h1m-1 1h1m0 -2h1m0 -1h1m0 -1h1m0 -1h1m0 -1h1m0 -1h1m0 -1h1m0 -1h1m0 -1h1m0 -1h1m0 -1h2m0 -1h1m0 -1h1m0 -1h2m0 -1h1m0 -1h1m0 -1h1m0 -1h2m0 -1h1m0 -1h1m0 -1h1m0 -2h1m-1 1h1m0 -2h1m0 -1h1m0 -2h1m-1 1h1m0 -2h1m0 -2h1m-1 1h1m0 -2h1m0 -2h1m-1 1h1m0 -3h1m-1 1h1m0 -2h1m0 -2h1m-1 1h1m0 -3h1m-1 1h1m0 -3h1m-1 1h1m0 -2h1m0 -1h1m0 -1h1m0 -1h1m0 -2h1m-1 1h1m0 -2h1m0 -1h1m0 -1h1m0 1h1m-1 1h1m0 1h1m-1 1h1m0 1h1m0 1h1m-1 1h1m0 1h1m-1 1h1m0 1h1m-1 1h1m0 1h1m0 1h1m-1 1h1m0 1h1m0 1h1m0 1h1m-1 1h1m0 1h1m0 1h1m-1 1h1m0 1h1m0 1h1m-1 1h1m0 1h1m-1 1h1m0 1h1m0 1h1m-1 1h1m0 1h1m-1 1h1m0 1h1m-1 1h1m0 1h1m0 1h1m-1 1h1m0 1h1m-1 1h1m0 1h1m-1 1h1m0 1h1m-1 1h1m0 1h1m-1 1h1m0 1h1m-1 1h1m0 1h1m0 1h1m0 1h1m-1 1h1m0 1h1m0 1h1m0 1h1m-1 1h1m0 1h1m0 1h1m0 1h1m-1 1h1m0 1h1m0 1h1m-1 1h1m0 1h1m-1 1h1m0 1h1m0 1h1m-1 1h1m0 1h1m0 1h1m-1 1h1m0 1h1m0 1h1m0 1h1m-1 1h1m0 1h1m0 1h1m-1 1h1m0 1h1m0 1h1m-1 1h1m0 1h1m-1 1h1m0 1h1m0 1h1m-1 1h1m0 1h1m-1 1h1m0 1h1m-1 1h1m0 1h1m0 1h1m-1 1h1m0 1h1m0 1h1m0 1h1m-1 1h1m0 1h1m0 1h1m-1 1h1m0 1h1m0 1h1m-1 1h1m0 1h1m-1 1h1m0 1h1m0 1h1m-1 1h1m0 1h1m-1 1h1m0 1h1m-1 1h1m0 1h1m0 -1h1m0 -1h1m0 -1h2m0 -1h1m0 -1h1m0 -1h1m0 -1h2m0 -1h1m0 -1h1m0 -1h2m0 -2h1m-1 1h1m0 -3h1m-1 1h1m0 -4h1m-1 1h1m-1 1h1m0 -4h1m-1 1h1m0 -3h1m-1 1h1m0 -4h1m-1 1h1m-1 1h1m0 -4h1m-1 1h1m0 -3h1m-1 1h1m0 -3h1m-1 1h1m0 -3h1m-1 1h1m0 -2h1m0 -2h1m-1 1h1m0 -3h1m-1 1h1m0 -3h1m-1 1h1m0 -2h1m0 -1h1m0 -1h1m0 -1h1m0 -2h1m-1 1h1m0 -2h1m0 -1h1m0 -1h1m0 -1h1m0 -1h1m0 -1h2m0 -1h1m0 -1h1m0 -1h2m0 -1h4m0 -1h3m0 1h4m0 1h2m0 1h1m0 1h1m0 1h1m0 1h1m0 1h1m0 1h1m0 1h1m0 1h1m0 1h1m-1 1h1m0 1h1m0 1h1m0 1h1m-1 1h1m0 1h1m0 1h1m0 1h1m0 1h1m0 1h1m0 1h1m0 1h1m0 1h1m0 1h1m0 1h1m0 1h1m0 1h2m0 1h1m0 1h1m0 1h1m0 1h1m-1 1h1m0 1h1m-1 1h1m0 1h1m-1 1h1m0 1h1m-1 1h1m0 1h1m-1 1h1m0 1h1m-1 1h1m0 1h1m-1 1h1m0 1h1m-1 1h1m0 1h1m-1 1h1m0 1h1m-1 1h1m0 1h1m-1 1h1m0 1h1m-1 1h1m0 1h1m-1 1h1m0 1h1m0 1h1m-1 1h1m0 1h1m-1 1h1m0 1h1m-1 1h1m0 1h1m-1 1h1m0 1h1m-1 1h1m0 1h1m-1 1h1m0 1h1m-1 1h1m0 1h1m-1 1h1m0 1h1m-1 1h1m-1 1h1m0 1h1m-1 1h1m0 1h1m-1 1h1m0 1h1m-1 1h1m-1 1h1m0 1h1m-1 1h1m0 1h1m-1 1h1" transform="translate(0,.5)" fill="none" stroke="#00008b" stroke-width="1" shape-rendering="crispEdges"/>
<path d="M66 327h1m0 1h2m0 1h1m0 1h1m0 1h2m0 1h1m-1 1h1m0 1h1m-1 1h1m-1 1h1m0 1h1m-1 1h1m-1 1h1m0 1h1m-1 1h1m0 1h1m-1 1h1m-1 1h1m0 1h1m-1 1h1m-1 1h1m0 1h1m-1 1h1m-1 1h1m0 1h1m-1 1h1m-1 1h1m0 1h1m-1 1h1m0 1h1m-1 1h1m0 1h1m-1 1h1m0 1h1m-1 1h1m0 1h1m-1 1h1m0 1h1m-1 1h1m0 1h1m-1 1h1m-1 1h1m0 1h1m-1 1h1m-1 1h1m-1 1h1m0 1h1m-1 1h1m-1 1h1m-1 1h1m0 1h1m-1 1h1m-1 1h1m0 1h1m-1 1h1m-1 1h1m-1 1h1m0 1h1m-1 1h1m-1 1h1m-1 1h1m0 1h1m-1 1h1m-1 1h1m-1 1h1m0 1h1m-1 1h4m0 1h4m-1 -1h1m0 -3h1m-1 1h1m-1 1h1m0 -5h1m-1 1h1m-1 1h1m0 -5h1m-1 1h1m-1 1h1m0 -5h1m-1 1h1m-1 1h1m0 -5h1m-1 1h1m-1 1h1m0 -5h1m-1 1h1m-1 1h1m0 -6h1m-1 1h1m-1 1h1m-1 1h1m0 -7h1m-1 1h1m-1 1h1m-1 1h1m0 -8h1m-1 1h1m-1 1h1m-1 1h1m-1 1h1m0 -8h1m-1 1h1m-1 1h1m-1 1h1m0 -7h1m-1 1h1m-1 1h1m-1 1h1m0 -8h1m-1 1h1m-1 1h1m-1 1h1m-1 1h1m0 -8h1m-1 1h1m-1 1h1m-1 1h1m0 -7h1m-1 1h1m-1 1h1m-1 1h1m0 -7h1m-1 1h1m-1 1h1m-1 1h1m0 -7h1m-1 1h1m-1 1h1m-1 1h1m0 -7h1m-1 1h1m-1 1h1m-1 1h1m0 -7h1m-1 1h1m-1 1h1m-1 1h1m0 -7h1m-1 1h1m-1 1h1m-1 1h1m0 -7h1m-1 1h1m-1 1h1m-1 1h1m0 -7h1m-1 1h1m-1 1h1m-1 1h1m0 -7h1m-1 1h1m-1 1h1m-1 1h1m0 -7h1m-1 1h1m-1 1h1m-1 1h1m0 -7h1m-1 1h1m-1 1h1m-1 1h1m0 -7h1m-1 1h1m-1 1h1m-1 1h1m0 -7h1m-1 1h1m-1 1h1m-1 1h1m0 -7h1m-1 1h1m-1 1h1m-1 1h1m0 -6h1m-1 1h1m-1 1h1m0 -4h1m-1 1h1m0 -3h1m-1 1h1m0 -3h1m-1 1h1m0 -3h1m-1 1h1m0 -3h1m-1 1h1m0 -3h1m-1 1h1m0 -3h2m-2 1h1m1 -2h2m0 -1h2m0 -1h3m0 -1h4m0 -1h3m0 1h4m0 1h3m0 1h2m0 1h2m0 1h2m0 1h1m-1 1h1m0 1h1m-1 1h1m0 1h1m0 1h1m-1 1h1m0 1h1m-1 1h1m0 1h1m-1 1h1m0 1h1m0 1h1m-1 1h1m0 1h1m-1 1h1m0 1h1m-1 1h1m0 1h1m-1 1h1m0 1h1m-1 1h1m0 1h1m-1 1h1m0 1h1m-1 1h1m0 1h1m0 1h1m-1 1h1m0 1h1m0 1h1m0 1h1m-1 1h1m0 1h1m0 1h1m0 1h1m-1 1h1m0 1h1m0 1h1m0 1h1m-1 1h1m0 1h1m0 1h1m-1 1h1m0 1h1m0 1h1m0 1h1m0 1h1m0 1h1m0 1h1m0 1h1m0 1h1m0 1h1m-1 1h1m0 1h1m0 1h1m0 1h1m-1 1h1m0 1h1m0 1h1m-1 1h1m0 1h2m0 1h4m0 1h5m0 -1h4m-1 1h1m0 1h1m-1 1h1m-1 1h1m0 1h1m-1 1h1m-1 1h1m-1 1h1m0 1h1m-1 1h1m-1 1h1m0 1h1m-1 1h1m-1 1h1m0 1h1m-1 1h1m-1 1h1m-1 1h1m0 1h1m-1 1h1m-1 1h1m0 1h1m-1 1h1m-1 1h1m0 1h1m-1 1h1m0 1h1m-1 1h1m0 1h1m-1 1h1m0 1h1m-1 1h1m0 1h1m-1 1h1m0 1h1m-1 1h1m0 1h1m-1 1h1m0 1h1m-1 1h1m0 1h1m-1 1h1m0 1h1m-1 1h1m0 1h1m-1 1h1m0 1h1m-1 1h1m0 1h1m-1 1h1m0 1h1m-1 1h1m-1 1h1m0 1h1m-1 1h1m0 1h1m-1 1h1m0 1h1m-1 1h1m0 1h1m-1 1h1m-1 1h1m0 1h1m-1 1h1m0 1h1m-1 1h1m0 1h1m-1 1h1m-1 1h1m0 1h1m-1 1h1m-1 1h1m0 1h1m-1 1h1m-1 1h1m0 1h1m-1 1h1m-1 1h1m0 1h1m-1 1h1m-1 1h1m0 1h1m-1 1h1m-1 1h1m0 1h1m-1 1h1m-1 1h1m0 1h1m-1 1h4m0 -1h4m0 1h1m-1 1h1m0 1h1m0 1h1m-1 1h1m0 1h1m-1 1h1m0 1h1m0 1h1m-1 1h1m0 1h2m0 1h2m0 1h2m0 1h2m0 1h2m0 1h2m0 1h2m0 1h2m0 1h2m0 1h2m0 1h2m0 1h2m0 1h2m0 1h2m0 1h8m-1 1h1m0 1h1m-1 1h1m0 1h1m-1 1h1m0 1h1m-1 1h1m0 1h1m-1 1h1m0 1h1m-1 1h1m0 1h1m-1 1h1m0 1h1m-1 1h1m-1 1h1m0 1h1m-1 1h1m-1 1h1m0 1h1m-1 1h1m-1 1h1m0 1h1m-1 1h1m0 1h1m-1 1h1m-1 1h1m0 1h1m-1 1h1m-1 1h1m0 1h1m-1 1h1m-1 1h1m0 1h1m-1 1h1m-1 1h1m0 1h1m-1 1h1m-1 1h1m-1 1h1m0 1h1m-1 1h1m-1 1h1m0 1h1m-1 1h1m-1 1h1m-1 1h1m0 1h1m-1 1h1m-1 1h1m-1 1h1m0 1h1m-1 1h1m-1 1h1m0 1h1m-1 1h1m-1 1h1m-1 1h1m0 1h1m-1 1h1m-1 1h1m0 1h1m-1 1h1m-1 1h1m0 1h1m-1 1h1m-1 1h1m-1 1h1m0 1h1m-1 1h1m-1 1h1m0 1h1m-1 1h1m-1 1h1m0 1h1m-1 1h1m-1 1h1m-1 1h1m0 1h1m-1 1h1m-1 1h1m0 1h1m-1 1h1m-1 1h1m0 1h1m-1 1h1m0 1h1m-1 1h1m-1 1h1m0 1h1m-1 1h1m0 1h1m-1 1h1m-1 1h1m0 1h1m-1 1h1m-1 1h1m0 1h1m-1 1h1m0 1h1m-1 1h1m0 1h2m0 1h1m0 1h1m0 1h3m-1 1h1m0 -4h1m-1 1h1m-1 1h1m0 -5h1m-1 1h1m-1 1h1m0 -4h1m-1 1h1m0 -4h1m-1 1h1m-1 1h1m0 -5h1m-1 1h1m-1 1h1m0 -5h1m-1 1h1m-1 1h1m0 -4h1m-1 1h1m0 -2h1m0 -2h1m-1 1h1m0 -2h1m0 -1h1m0 -2h1m-1 1h1m0 -2h1m0 -1h1m0 -2h1m-1 1h1m0 -2h1m0 -2h1m-1 1h1m0 -3h1m-1 1h1m0 -2h1m0 -2h1m-1 1h1m0 -2h1m0 -2h1m-1 1h1m0 -3h1m-1 1h1m0 -3h1m-1 1h1m0 -3h1m-1 1h1m0 -3h1m-1 1h1m0 -3h1m-1 1h1m0 -2h1m0 -2h1m-1 1h1m0 -2h1m0 -2h1m-1 1h1m0 -3h1m-1 1h1m0 -2h1m0 -2h1m-1 1h1m0 -2h2m0 1h2m0 1h2m0 1h2m0 -1h2m0 -1h1m0 -1h1m0 -1h2m0 -1h1m0 -1h2m0 -1h2m0 -1h2m0 -1h2m0 1h4m0 1h3m0 -1h4m0 -1h2m0 1h2m0 1h1m0 1h1m0 1h2m0 1h4m0 1h7m0 1h4m0 1h1m-1 1h1m0 1h1m-1 1h1m0 1h1m-1 1h1m0 1h1m-1 1h1m0 1h1m-1 1h1m0 1h1m-1 1h1m0 1h1m-1 1h1m-1 1h1m0 1h1m-1 1h1m-1 1h1m0 1h1m-1 1h1m-1 1h1m0 1h1m-1 1h1m0 1h1m-1 1h1m-1 1h1m0 1h1m-1 1h1m-1 1h1m0 1h1m-1 1h1m-1 1h1m0 1h1m-1 1h1m0 1h1m-1 1h1m0 1h1m-1 1h1m0 1h1m0 1h1m-1 1h1m0 1h1m-1 1h1m0 1h1m-1 1h1m0 1h1m0 1h1m-1 1h1m0 1h1m0 1h1m-1 1h1m0 1h1m-1 1h1m0 1h1m0 1h1m-1 1h1m0 1h1m-1 1h1m0 1h1m-1 1h1m-1 1h1m0 1h1m-1 1h1m-1 1h1m0 1h1m-1 1h1m-1 1h1m0 1h1m-1 1h1m-1 1h1m0 1h1m-1 1h1m-1 1h1m0 1h1m-1 1h1m-1 1h1m0 1h1m-1 1h1m0 1h2m0 1h2m0 1h2m0 1h2m0 1h4m0 1h2m0 1h1m-1 1h1m0 1h1m0 1h1m0 1h1m-1 1h1m0 1h1m0 1h1m-1 1h1m0 1h1m0 1h1m0 1h1m0 1h1m0 1h1m0 1h1m0 1h1m0 1h1m0 1h2m0 1h2m0 1h2m0 1h1m0 1h1m0 1h1m0 1h2m0 1h1m0 1h1m0 1h1m-1 1h1m0 1h1m-1 1h1m0 1h1m-1 1h1m0 1h1m-1 1h1m0 1h1m-1 1h1m0 1h1m-1 1h1m0 1h1m-1 1h1m0 1h1m-1 1h4m0 -1h5m0 1h4m0 1h2m0 -1h2m0 -1h1m0 -1h1m0 -1h2m0 -1h2m0 -1h4m0 -1h2m0 -1h1m0 -1h1m0 -1h1m0 -1h1m0 -1h1m0 -1h1m0 -1h1m0 -1h2m0 -1h1m0 -1h1m0 -1h2m0 -1h1m0 -2h1m-1 1h1m0 -3h1m-1 1h1m0 -3h1m-1 1h1m0 -3h1m-1 1h1m0 -3h1m-1 1h1m0 -3h1m-1 1h1m0 -2h1m0 -2h1m-1 1h1m0 -3h1m-1 1h1m0 -3h1m-1 1h1m0 -3h1m-1 1h1m0 -3h1m-1 1h1m0 -3h1m-1 1h1m0 -3h1m-1 1h1m0 -3h1m-1 1h1m0 -3h1m-1 1h1m0 -3h1m-1 1h1m0 -3h1m-1 1h1m0 -3h1m-1 1h1m0 -3h1m-1 1h1m0 -3h1m-1 1h1m0 -3h1m-1 1h1m0 -3h1m-1 1h1m0 -3h1m-1 1h1m0 -3h1m-1 1h1m0 -3h1m-1 1h1m0 -3h1m-1 1h1m0 -3h2m-2 1h1m1 -2h4m0 -1h2m0 -1h1m0 -2h1m-1 1h1m0 -2h1m0 -1h1m0 -2h1m-1 1h1m0 -2h1m0 -1h2m0 -1h2m0 -1h2m0 -1h2m0 -1h2m0 -1h1m0 -1h1m0 -1h2m0 -1h1m0 -1h2m0 -1h1m0 -1h1m0 -1h2m0 -1h1m0 -2h1m-1 1h1m0 -3h1m-1 1h1m0 -3h1m-1 1h1m0 -3h1m-1 1h1m0 -3h1m-1 1h1m0 -3h1m-1 1h1m0 -2h1m0 -1h2m0 -1h1m0 -1h1m0 -1h2m0 -1h1m0 -2h1m-1 1h1m0 -2h1m0 -1h1m0 -2h1m-1 1h1m0 -2h1m0 -2h1m-1 1h1m0 -2h1m0 -1h2m0 -1h1m0 -1h1m0 -1h2m0 -1h1m0 -1h2m0 -1h1m0 -1h1m0 -1h2m0 -1h4m0 -1h4m0 1h2m0 1h1m0 1h1m0 1h2m0 1h15m0 1h1m0 1h1m0 1h1m0 1h1m-1 1h1m0 1h1m0 1h1m0 1h1m0 1h1m-1 1h1m0 1h1m0 1h1m-1 1h1m0 1h1m-1 1h1m0 1h1m0 1h1m-1 1h1m0 1h1m0 1h1m0 1h1m0 1h1m0 1h1m-1 1h1m0 1h1m0 1h1m0 1h1m0 1h1m-1 1h1m0 1h1m0 1h1m-1 1h1m0 1h1m-1 1h1m0 1h1m0 1h1m-1 1h1m0 1h1m0 1h1m0 1h1m-1 1h1m0 1h1m0 1h1m0 1h1m-1 1h1m0 1h1m0 1h1m0 1h1m-1 1h1m0 1h1m-1 1h1m0 1h1m0 1h1m-1 1h1m0 1h1m-1 1h1m0 1h1m-1 1h1m0 1h1m0 1h2m0 1h1m0 1h1m0 1h2m0 1h1m0 1h1m-1 1h1m0 1h1m0 1h1m-1 1h1m0 1h1m-1 1h1m0 1h1m0 1h1m-1 1h1m0 1h1m0 1h1m-1 1h1m0 1h1m-1 1h1m0 1h1m0 1h1m-1 1h1m0 1h1m-1 1h1m0 1h1m-1 1h1m0 1h1m0 1h2m0 1h2m0 1h2m0 1h1m0 -1h1m0 -1h1m0 -1h2m0 -1h1m0 -1h1m0 -2h1m-1 1h1m0 -3h1m-1 1h1m0 -3h1m-1 1h1m0 -3h1m-1 1h1m0 -4h1m-1 1h1m-1 1h1m0 -4h1m-1 1h1m0 -3h1m-1 1h1m0 -4h1m-1 1h1m-1 1h1m0 -5h1m-1 1h1m-1 1h1m0 -5h1m-1 1h1m-1 1h1m0 -4h1m-1 1h1m0 -4h1m-1 1h1m-1 1h1m0 -5h1m-1 1h1m-1 1h1m0 -5h1m-1 1h1m-1 1h1m0 -5h1m-1 1h1m-1 1h1m0 -4h1m-1 1h1m0 -4h1m-1 1h1m-1 1h1m0 -4h1m-1 1h1m0 -4h1m-1 1h1m-1 1h1m0 -5h1m-1 1h1m-1 1h1m0 -4h1m-1 1h1m0 -3h1m-1 1h1m0 -3h1m-1 1h1m0 -3h1m-1 1h1m0 -3h1m-1 1h1m0 -3h1m-1 1h1m0 -3h1m-1 1h1m0 -3h1m-1 1h1m0 -3h1m-1 1h1m0 -2h2m0 -1h1m0 -1h1m0 -1h2m0 -1h4m0 -1h4m0 1h2m0 1h1m0 1h1m0 1h2m0 1h4m0 -1h11m0 -1h1m0 -1h1m0 -1h1m0 -1h1m0 -1h1m0 -1h1m0 -1h1m0 -1h1m0 -1h1m0 -1h1m0 -1h1m0 -1h1m0 -1h1m0 -2h1m-1 1h1m0 -4h1m-1 1h1m-1 1h1m0 -4h1m-1 1h1m0 -4h1m-1 1h1m-1 1h1m0 -5h1m-1 1h1m-1 1h1m0 -4h1m-1 1h1m0 -4h1m-1 1h1m-1 1h1m0 -4h1m-1 1h1m0 -3h1m-1 1h1m0 -2h1m0 -1h1m0 -2h1m-1 1h1m0 -2h1m0 -2h1m-1 1h1m0 -2h1m0 -1h1m0 -1h1m0 -1h1m0 -2h1m-1 1h1m0 -2h1m0 -1h1m0 -1h1m0 -1h1m0 -2h1m-1 1h1m0 -2h1m0 -1h1m0 -2h1m-1 1h1m0 -2h1m0 -1h1m0 -2h1m-1 1h1m0 -2h1m0 -1h1m0 -2h1m-1 1h1m0 -2h1m0 -2h1m-1 1h1m0 -2h4m0 -1h5m0 -1h2m0 -1h2m0 -1h2m-1 -2h1m-1 1h1m0 -5h1m-1 1h1m-1 1h1m-1 1h1m0 -7h1m-1 1h1m-1 1h1m-1 1h1m0 -7h1m-1 1h1m-1 1h1m-1 1h1m0 -8h1m-1 1h1m-1 1h1m-1 1h1m-1 1h1m0 -8h1m-1 1h1m-1 1h1m-1 1h1m0 -7h1m-1 1h1m-1 1h1m-1 1h1m0 -8h1m-1 1h1m-1 1h1m-1 1h1m-1 1h1m0 -8h1m-1 1h1m-1 1h1m-1 1h1m0 -8h1m-1 1h1m-1 1h1m-1 1h1m-1 1h1m0 -8h1m-1 1h1m-1 1h1m-1 1h1m0 -8h1m-1 1h1m-1 1h1m-1 1h1m-1 1h1m0 -9h1m-1 1h1m-1 1h1m-1 1h1m-1 1h1m0 -8h1m-1 1h1m-1 1h1m-1 1h1m0 -7h1m-1 1h1m-1 1h1m-1 1h1m0 -7h1m-1 1h1m-1 1h1m-1 1h1m0 -6h1m-1 1h1m-1 1h1m0 -6h1m-1 1h1m-1 1h1m-1 1h1m0 -7h1m-1 1h1m-1 1h1m-1 1h1m0 -6h1m-1 1h1m-1 1h1m0 -6h1m-1 1h1m-1 1h1m-1 1h1m0 -6h1m-1 1h1m-1 1h1m0 -6h1m-1 1h1m-1 1h1m-1 1h1m0 -7h1m-1 1h1m-1 1h1m-1 1h1m0 -6h1m-1 1h1m-1 1h1m0 -6h1m-1 1h1m-1 1h1m-1 1h1m0 -7h1m-1 1h1m-1 1h1m-1 1h1m0 -7h1m-1 1h1m-1 1h1m-1 1h1m0 -6h1m-1 1h1m-1 1h1m0 -6h1m-1 1h1m-1 1h1m-1 1h1m0 -7h1m-1 1h1m-1 1h1m-1 1h1m0 -6h1m-1 1h1m-1 1h1m0 -6h1m-1 1h1m-1 1h1m-1 1h1m0 -7h1m-1 1h1m-1 1h1m-1 1h1m0 -7h1m-1 1h1m-1 1h1m-1 1h1m0 -5h1m-1 1h1m0 -2h2m0 -1h1m0 -1h1m0 -1h2m0 -1h2m0 -1h4m0 -1h3m0 -1h2m0 -1h2m0 -1h5m0 -1h4m0 -1h1m0 -2h1m-1 1h1m0 -2h1m0 -1h1m0 -2h1m-1 1h1m0 -2h1m0 -1h4m0 1h5m0 1h2m0 1h2m0 1h12m0 1h4m0 1h1m0 1h1m-1 1h1m0 1h1m0 1h1m0 1h1m-1 1h1m0 1h1m0 1h1m0 1h1m0 1h1m0 1h1m0 1h1m-1 1h1m0 1h1m0 1h1m0 1h2m0 1h4m0 1h3m0 1h4m0 1h2m0 1h1m-1 1h1m0 1h1m-1 1h1m0 1h1m0 1h1m-1 1h1m0 1h1m-1 1h1m0 1h1m-1 1h1m0 1h4m0 1h5m0 -1h2m0 -1h2m0 -1h2m0 -1h2m0 -1h2m0 -1h2m0 -1h4m0 -1h4m-1 -1h1m0 -2h1m-1 1h1m0 -3h1m-1 1h1m0 -3h1m-1 1h1m0 -4h1m-1 1h1m-1 1h1m0 -4h1m-1 1h1m0 -3h1m-1 1h1m0 -4h1m-1 1h1m-1 1h1m0 -5h1m-1 1h1m-1 1h1m0 -5h1m-1 1h1m-1 1h1m0 -4h1m-1 1h1m0 -4h1m-1 1h1m-1 1h1m0 -5h1m-1 1h1m-1 1h1m0 -5h1m-1 1h1m-1 1h1m0 -5h1m-1 1h1m-1 1h1m0 -6h1m-1 1h1m-1 1h1m-1 1h1m0 -7h1m-1 1h1m-1 1h1m-1 1h1m0 -7h1m-1 1h1m-1 1h1m-1 1h1m0 -7h1m-1 1h1m-1 1h1m-1 1h1m0 -7h1m-1 1h1m-1 1h1m-1 1h1m0 -7h1m-1 1h1m-1 1h1m-1 1h1m0 -6h1m-1 1h1m-1 1h1m0 -6h1m-1 1h1m-1 1h1m-1 1h1m0 -7h1m-1 1h1m-1 1h1m-1 1h1m0 -7h1m-1 1h1m-1 1h1m-1 1h1m0 -7h1m-1 1h1m-1 1h1m-1 1h1m0 -7h1m-1 1h1m-1 1h1m-1 1h1m0 -7h1m-1 1h1m-1 1h1m-1 1h1m0 -6h1m-1 1h1m-1 1h1m0 -5h1m-1 1h1m-1 1h1m0 -6h1m-1 1h1m-1 1h1m-1 1h1m0 -6h1m-1 1h1m-1 1h1m0 -5h1m-1 1h1m-1 1h1m0 -6h1m-1 1h1m-1 1h1m-1 1h1m0 -6h1m-1 1h1m-1 1h1m0 -5h1m-1 1h1m-1 1h1m0 -5h1m-1 1h1m-1 1h1m0 -4h1m-1 1h1m0 -4h1m-1 1h1m-1 1h1m0 -5h1m-1 1h1m-1 1h1m0 -4h1m-1 1h1m0 -4h1m-1 1h1m-1 1h1m0 -4h1m-1 1h1m0 -2h1m0 -1h1m0 -1h1m0 -2h1m-1 1h1m0 -2h1m0 -1h1m0 -1h4m0 -1h5m0 1h4m0 1h9m0 -1h1m0 -2h1m-1 1h1m0 -2h1m0 -1h1m0 -2h1m-1 1h1m0 -2h1m0 -1h1m0 -1h2m0 -1h1m0 -1h1m0 -1h2m0 -1h1m0 -1h2m0 -1h2m0 -1h2m0 -1h4m0 1h4m0 1h1m0 1h1m0 1h1m0 1h1m-1 1h1m0 1h1m0 1h1m0 1h1m-1 1h1m0 1h1m-1 1h1m-1 1h1m0 1h1m-1 1h1m-1 1h1m0 1h1m-1 1h1m0 1h1m-1 1h1m-1 1h1m0 1h1m-1 1h1m-1 1h1m0 1h1m-1 1h1m-1 1h1m0 1h1m-1 1h1m0 1h1m-1 1h1m0 1h1m0 1h1m0 1h1m-1 1h1m0 1h1m0 1h1m-1 1h1m0 1h1m-1 1h1m0 1h1m-1 1h1m0 1h1m-1 1h1m0 1h1m-1 1h1m0 1h1m-1 1h1m0 1h1m-1 1h1m0 1h1m-1 1h1m0 1h1m-1 1h1m-1 1h1m0 1h1m-1 1h1m0 1h1m-1 1h1m0 1h1m-1 1h1m0 1h1m-1 1h1m0 1h1m-1 1h1m0 1h1m-1 1h1m0 1h1m-1 1h1m0 1h1m-1 1h1m0 1h1m-1 1h1m0 1h1m0 1h1m-1 1h1m0 1h1m-1 1h1m0 1h1m-1 1h1m0 1h1m0 1h1m0 1h1m-1 1h1m0 1h1m0 1h1m0 1h1m-1 1h1m0 1h1m0 1h1m0 1h1m-1 1h1m0 1h1m-1 1h1m0 1h1m-1 1h1m0 1h1m-1 1h1m0 1h1m-1 1h1m0 1h1m-1 1h1m0 1h1m0 1h1m0 1h1m-1 1h1m0 1h1m0 1h1m0 1h1m-1 1h1m0 1h1m0 1h1m0 1h2m0 1h1m0 1h1m0 1h2m0 1h1m0 -1h2m0 -1h1m0 -1h1m0 -1h2m0 -1h1m0 1h2m0 1h2m0 1h2m0 1h1m0 1h2m0 1h2m0 1h2m0 1h1m0 1h1m0 1h1m0 1h1m0 1h1m-1 1h1m0 1h1m0 1h1m0 1h2m0 -1h4m0 -1h3m0 1h2m0 1h2m0 1h3m0 -1h2m0 -1h2m0 -1h3m0 1h2m0 1h2m0 1h2m0 -1h1m0 -2h1m-1 1h1m0 -2h1m0 -1h1m0 -2h1m-1 1h1m0 -2h1m0 -1h2m0 -1h2m0 -1h2m0 -1h3m0 -1h4m0 -1h3m0 -1h2m0 -1h2m0 -1h2m-1 -1h1m0 -3h1m-1 1h1m-1 1h1m0 -4h1m-1 1h1m0 -4h1m-1 1h1m-1 1h1m0 -5h1m-1 1h1m-1 1h1m0 -4h1m-1 1h1m0 -4h1m-1 1h1m-1 1h1m0 -4h1m-1 1h1m0 -2h1m0 -1h1m0 -1h2m0 -1h1m0 -1h1m0 -1h1m0 -1h2m0 -1h1m0 -1h1m0 -1h2m0 -1h1m0 -2h1m-1 1h1m0 -2h1m0 -2h1m-1 1h1m0 -3h1m-1 1h1m0 -2h1m0 -2h1m-1 1h1m0 -3h1m-1 1h1m0 -3h1m-1 1h1m0 -3h1m-1 1h1m0 -3h1m-1 1h1m0 -4h1m-1 1h1m-1 1h1m0 -4h1m-1 1h1m0 -3h1m-1 1h1m0 -3h1m-1 1h1m0 -2h2m0 -1h1m0 -1h1m0 -1h2m0 -1h1m0 -2h1m-1 1h1m0 -2h1m0 -2h1m-1 1h1m0 -3h1m-1 1h1m0 -2h1m0 -2h2m-2 1h2m-1 -2h1m0 3h1m-1 1h1m-1 1h1m-1 1h1m0 1h1m-1 1h1m-1 1h1m-1 1h1m0 1h1m-1 1h1m-1 1h1m-1 1h1m0 1h1m-1 1h1m-1 1h1m-1 1h1m-1 1h1m0 1h1m-1 1h1m-1 1h1m-1 1h1m0 1h1m-1 1h1m-1 1h1m-1 1h1m0 1h1m-1 1h1m-1 1h1m-1 1h1m-1 1h1m0 1h1m-1 1h1m-1 1h1m-1 1h1m0 1h1m-1 1h1m-1 1h1m-1 1h1m0 1h1m-1 1h1m-1 1h1m-1 1h1m0 1h1m-1 1h1m-1 1h1m-1 1h1m-1 1h1m0 1h1m-1 1h1m-1 1h1m-1 1h1m0 1h1m-1 1h1m-1 1h1m-1 1h1m0 1h1m-1 1h1m-1 1h1m-1 1h1m-1 1h1m0 1h1m-1 1h1m-1 1h1m-1 1h1m-1 1h1m-1 1h1m0 1h1m-1 1h1m-1 1h1m-1 1h1m-1 1h1m-1 1h1m0 1h1m-1 1h1m-1 1h1m-1 1h1m-1 1h1m0 1h1m-1 1h1m-1 1h1m-1 1h1m-1 1h1m-1 1h1m0 1h1m-1 1h1m-1 1h1m-1 1h1m-1 1h1m-1 1h1m0 1h1m-1 1h1m-1 1h1m-1 1h1m-1 1h1m-1 1h1m0 1h1m-1 1h1m-1 1h1m-1 1h1m-1 1h1m0 1h1m-1 1h1m-1 1h1m-1 1h1m0 1h1m-1 1h1m-1 1h1m-1 1h1m-1 1h1m0 1h1m-1 1h1m-1 1h1m-1 1h1m0 1h1m-1 1h1m-1 1h1m-1 1h1m-1 1h1m0 1h1m-1 1h1m-1 1h1m-1 1h1m-1 1h1m0 1h1m-1 1h1m-1 1h1m-1 1h1m0 1h1m-1 1h1m-1 1h1m-1 1h1m-1 1h1m0 1h1m-1 1h1m-1 1h1m-1 1h1m0 1h1m-1 1h1m-1 1h1m-1 1h1m0 1h1m-1 1h1m-1 1h1m-1 1h1m0 1h1m-1 1h1m-1 1h1m-1 1h1m0 1h1m-1 1h1m-1 1h1m-1 1h1m0 1h1m-1 1h1m-1 1h1m-1 1h1m0 1h1m-1 1h2m-2 1h1m1 -3h1m-1 1h1m0 -2h1m0 -1h1m0 -2h1m-1 1h1m0 -2h1m0 -1h1m0 -1h1m0 -2h1m-1 1h1m0 -2h1m0 -1h1m0 -2h1m-1 1h1m0 -2h1m0 -2h1m-1 1h1m0 -3h1m-1 1h1m0 -4h1m-1 1h1m-1 1h1m0 -4h1m-1 1h1m0 -4h1m-1 1h1m-1 1h1m0 -5h1m-1 1h1m-1 1h1m0 -4h1m-1 1h1m0 -3h1m-1 1h1m0 -3h1m-1 1h1m0 -2h1m0 -1h1m0 -2h1m-1 1h1m0 -2h1m0 -2h1m-1 1h1m0 -2h1m0 -1h1m0 -1h1m0 -1h2m0 -1h1m0 -1h1m0 -1h1m0 -1h2m0 -1h2m0 -1h2m0 -1h4m0 -1h4m0 -2h1m-1 1h1m0 -3h1m-1 1h1m0 -3h1m-1 1h1m0 -3h1m-1 1h1m0 -3h1m-1 1h1m0 -3h1m-1 1h1m0 -4h1m-1 1h1m-1 1h1m0 -4h1m-1 1h1m0 -3h1m-1 1h1m0 -3h1m-1 1h1m0 -3h1m-1 1h1m0 -3h1m-1 1h1m0 -3h1m-1 1h1m0 -3h1m-1 1h1m0 -3h1m-1 1h1m0 -2h1m0 -2h1m-1 1h1m0 -3h1m-1 1h1m0 -2h1m0 -2h1m-1 1h1m0 -2h1m0 -1h1m0 -1h1m0 -1h1m0 -1h1m0 -1h1m0 -1h1m0 -1h2m0 -1h2m0 -1h2m0 -1h2m-1 1h1m0 1h1m-1 1h1m0 1h1m-1 1h1m-1 1h1m0 1h1m-1 1h1m0 1h1m-1 1h1m-1 1h1m0 1h1m-1 1h1m-1 1h1m0 1h1m-1 1h1m0 1h1m-1 1h1m-1 1h1m-1 1h1m0 1h1m-1 1h1m-1 1h1m-1 1h1m0 1h1m-1 1h1m-1 1h1m-1 1h1m0 1h1m-1 1h1m-1 1h1m-1 1h1m0 1h1m-1 1h1m-1 1h1m-1 1h1m0 1h1m-1 1h1m-1 1h1m-1 1h1m0 1h1m-1 1h1m-1 1h1m-1 1h1m0 1h1m-1 1h1m-1 1h1m-1 1h1m-1 1h1m0 1h1m-1 1h1m-1 1h1m-1 1h1m0 1h1m-1 1h1m-1 1h1m-1 1h1m0 1h1m-1 1h1m-1 1h1m-1 1h1m0 1h1m-1 1h1m-1 1h1m-1 1h1m0 1h1m-1 1h1m-1 1h1m-1 1h1m0 1h1m-1 1h1m-1 1h1m-1 1h1m0 1h1m-1 1h1m-1 1h1m-1 1h1m0 1h1m-1 1h1m-1 1h1m0 1h1m-1 1h1m-1 1h1m0 1h1m-1 1h1m-1 1h1m0 1h1m-1 1h1m-1 1h1m0 1h1m-1 1h1m-1 1h1m0 1h1m-1 1h1m-1 1h1m0 1h1m-1 1h1m0 1h1m-1 1h1m0 1h1m-1 1h1m0 1h1m-1 1h1m0 1h1m-1 1h1m0 1h1m-1 1h1m0 1h1m-1 1h1m0 1h1m-1 1h1m0 1h1m-1 1h1m0 1h1m0 1h1m-1 1h1m0 1h1m-1 1h1m0 1h1m0 1h1m-1 1h1m0 1h2m0 -1h4m0 -1h3m0 -1h2m0 -1h2m0 -1h2m0 1h1m-1 1h1m0 1h1m-1 1h1m0 1h1m0 1h1m-1 1h1m0 1h1m-1 1h1m0 1h1m-1 1h1m0 1h1" transform="translate(0,.5)" fill="none" stroke="#000000" stroke-width="1" shape-rendering="crispEdges"/>
<g shape-rendering="crispEdges"><path d="M66 837h1v4h-1zM73 837h1v12h-1zM80 837h1v24h-1zM87 837h1v26h-1zM94 837h1v27h-1zM101 837h1v10h-1zM185 837h1v2h-1zM192 837h1v7h-1zM199 837h1v9h-1zM206 837h1v13h-1zM213 837h1v13h-1zM220 837h1v9h-1zM227 837h1v26h-1zM234 837h1v29h-1zM241 837h1v31h-1zM248 837h1v31h-1zM255 837h1v29h-1zM262 837h1v28h-1zM269 837h1v30h-1zM276 837h1v25h-1zM283 837h1v20h-1zM290 837h1v16h-1zM297 837h1v14h-1zM304 837h1v13h-1zM311 837h1v18h-1zM318 837h1v24h-1zM325 837h1v29h-1zM332 837h1v31h-1zM339 837h1v28h-1zM346 837h1v20h-1zM451 837h1v5h-1zM458 837h1v6h-1zM465 837h1v6h-1zM472 837h1v13h-1zM479 837h1v14h-1zM486 837h1v12h-1zM493 837h1v13h-1zM500 837h1v10h-1zM507 837h1v12h-1zM514 837h1v12h-1zM521 837h1v15h-1zM528 837h1v8h-1zM535 837h1v2h-1zM696 837h1v1h-1zM703 837h1v11h-1zM710 837h1v13h-1zM717 837h1v14h-1zM724 837h1v16h-1zM731 837h1v23h-1zM738 837h1v27h-1zM745 837h1v28h-1zM752 837h1v27h-1zM759 837h1v22h-1zM766 837h1v16h-1zM773 837h1v4h-1zM976 837h1v2h-1zM983 837h1v5h-1zM990 837h1v8h-1zM997 837h1v15h-1zM1004 837h1v22h-1zM1011 837h1v26h-1zM1018 837h1v24h-1zM1025 837h1v30h-1zM1032 837h1v28h-1zM1039 837h1v27h-1zM1046 837h1v24h-1zM1053 837h1v19h-1zM1060 837h1v13h-1zM1067 837h1v1h-1zM1151 837h1v5h-1zM1158 837h1v16h-1zM1165 837h1v24h-1zM1172 837h1v27h-1zM1179 837h1v30h-1zM1186 837h1v37h-1zM1193 837h1v43h-1zM1200 837h1v43h-1zM1207 837h1v43h-1zM1214 837h1v41h-1zM1221 837h1v40h-1zM1228 837h1v32h-1zM1235 837h1v32h-1zM1242 837h1v30h-1zM1249 837h1v32h-1zM1256 837h1v24h-1zM1263 837h1v18h-1zM1270 837h1v13h-1zM1277 837h1v15h-1zM1284 837h1v10h-1zM1291 837h1v4h-1zM1361 837h1v8h-1zM1368 837h1v24h-1zM1375 837h1v36h-1zM1382 837h1v36h-1zM1389 837h1v33h-1zM1396 837h1v30h-1zM1403 837h1v22h-1zM1410 837h1v13h-1zM1417 837h1v6h-1zM1424 837h1v3h-1zM1431 837h1v3h-1zM1438 837h1v1h-1zM1487 837h1v9h-1zM1494 837h1v21h-1zM1501 837h1v27h-1zM1508 837h1v25h-1zM1515 837h1v21h-1zM1522 837h1v17h-1zM1529 837h1v17h-1zM1536 837h1v26h-1z" fill="#62a65e"/><path d="M108 829h1v9h-1zM115 819h1v19h-1zM122 812h1v26h-1zM129 809h1v29h-1zM136 803h1v35h-1zM143 804h1v34h-1zM150 808h1v30h-1zM157 813h1v25h-1zM164 819h1v19h-1zM171 825h1v13h-1zM178 834h1v4h-1zM353 836h1v2h-1zM360 833h1v5h-1zM367 830h1v8h-1zM374 824h1v14h-1zM381 818h1v20h-1zM388 812h1v26h-1zM395 813h1v25h-1zM402 815h1v23h-1zM409 817h1v21h-1zM416 814h1v24h-1zM423 816h1v22h-1zM430 819h1v19h-1zM437 821h1v17h-1zM444 834h1v4h-1zM542 834h1v4h-1zM549 832h1v6h-1zM556 831h1v7h-1zM563 825h1v13h-1zM570 814h1v24h-1zM577 807h1v31h-1zM584 806h1v32h-1zM591 806h1v32h-1zM598 811h1v27h-1zM605 803h1v35h-1zM612 805h1v33h-1zM619 806h1v32h-1zM626 809h1v29h-1zM633 810h1v28h-1zM640 806h1v32h-1zM647 806h1v32h-1zM654 811h1v27h-1zM661 815h1v23h-1zM668 821h1v17h-1zM675 824h1v14h-1zM682 824h1v14h-1zM689 829h1v9h-1zM780 830h1v8h-1zM787 825h1v13h-1zM794 822h1v16h-1zM801 826h1v12h-1zM808 826h1v12h-1zM815 827h1v11h-1zM822 825h1v13h-1zM829 826h1v12h-1zM836 826h1v12h-1zM843 824h1v14h-1zM850 815h1v23h-1zM857 815h1v23h-1zM864 818h1v20h-1zM871 821h1v17h-1zM878 819h1v19h-1zM885 818h1v20h-1zM892 821h1v17h-1zM899 806h1v32h-1zM906 797h1v41h-1zM913 794h1v44h-1zM920 793h1v45h-1zM927 799h1v39h-1zM934 802h1v36h-1zM941 808h1v30h-1zM948 813h1v25h-1zM955 818h1v20h-1zM962 821h1v17h-1zM969 828h1v10h-1zM1074 825h1v13h-1zM1081 817h1v21h-1zM1088 816h1v22h-1zM1095 815h1v23h-1zM1102 818h1v20h-1zM1109 822h1v16h-1zM1116 826h1v12h-1zM1123 830h1v8h-1zM1130 826h1v12h-1zM1137 830h1v8h-1zM1144 833h1v5h-1zM1298 836h1v2h-1zM1305 833h1v5h-1zM1312 825h1v13h-1zM1319 825h1v13h-1zM1326 823h1v15h-1zM1333 820h1v18h-1zM1340 813h1v25h-1zM1347 812h1v26h-1zM1354 813h1v25h-1zM1445 822h1v16h-1zM1452 813h1v25h-1zM1459 813h1v25h-1zM1466 819h1v19h-1zM1473 825h1v13h-1zM1480 832h1v6h-1z" fill="#d9473f"/></g>
<path d="M66 852h4m0 1h5m0 1h2m0 1h2m0 1h3m0 1h2m0 1h2m0 1h3m0 1h2m0 1h2m0 1h3m0 1h4m0 1h5m0 -1h5m0 -1h2m0 -1h2m0 -1h3m0 -1h2m0 -1h2m0 -1h2m0 -1h2m0 -1h2m0 -1h2m0 -1h1m0 -1h2m0 -1h2m0 -1h2m0 -1h1m0 -1h2m0 -1h2m0 -1h2m0 -1h1m0 -1h2m0 -1h2m0 -1h2m0 -1h2m0 -1h2m0 -1h2m0 -1h3m0 -1h4m0 -1h5m0 -1h7m0 -1h14m0 1h7m0 1h7m0 1h5m0 1h4m0 1h5m0 1h5m0 1h2m0 1h2m0 1h3m0 1h2m0 1h2m0 1h2m0 1h2m0 1h2m0 1h2m0 1h1m0 1h2m0 1h2m0 1h2m0 1h2m0 1h2m0 1h2m0 1h2m0 1h2m0 1h2m0 1h2m0 1h2m0 1h2m0 1h2m0 1h3m0 1h2m0 1h2m0 1h3m0 1h2m0 1h2m0 1h3m0 1h4m0 1h5m0 1h5m0 1h4m0 1h3m0 1h4m0 1h3m0 1h2m0 1h2m0 1h3m0 1h2m0 1h2m0 1h2m0 1h2m0 1h2m0 1h2m0 1h2m0 1h2m0 1h2m0 1h3m0 1h2m0 1h2m0 1h12m0 -1h7m0 -1h5m0 -1h4m0 -1h3m0 -1h4m0 -1h3m0 -1h2m0 -1h2m0 -1h3m0 -1h2m0 -1h2m0 -1h3m0 -1h2m0 -1h2m0 -1h3m0 -1h4m0 -1h3m0 -1h2m0 -1h2m0 -1h3m0 -1h2m0 -1h2m0 -1h3m0 -1h4m0 -1h3m0 -1h4m0 -1h5m0 -1h7m0 1h14m0 1h7m0 1h5m0 1h4m0 1h5m0 1h5m0 1h4m0 1h5m0 1h7m0 1h5m0 1h4m0 1h3m0 1h4m0 1h12m0 1h7m0 -1h14m0 -1h5m0 -1h4m0 -1h3m0 -1h2m0 -1h2m0 -1h3m0 -1h2m0 -1h2m0 -1h2m0 -1h2m0 -1h2m0 -1h2m0 -1h1m0 -1h2m0 -1h2m0 -1h2m0 -1h1m0 -1h2m0 -1h2m0 -1h2m0 -1h1m0 -1h2m0 -1h2m0 -1h2m0 -1h1m0 -1h2m0 -1h2m0 -1h2m0 -1h1m0 -1h2m0 -1h2m0 -1h2m0 -1h2m0 -1h2m0 -1h2m0 -1h2m0 -1h2m0 -1h2m0 -1h2m0 -1h1m0 -1h2m0 -1h2m0 -1h2m0 -1h2m0 -1h2m0 -1h2m0 -1h2m0 -1h2m0 -1h2m0 -1h2m0 -1h2m0 -1h4m0 -1h3m0 -1h4m0 -1h3m0 -1h4m0 -1h3m0 -1h4m0 -1h5m0 -1h12m0 1h4m0 1h5m0 1h5m0 1h4m0 1h5m0 1h5m0 1h2m0 1h2m0 1h3m0 1h2m0 1h2m0 1h2m0 1h2m0 1h2m0 1h2m0 1h2m0 1h2m0 1h2m0 1h3m0 1h2m0 1h2m0 1h5m0 1h7m0 1h7m0 -1h5m0 -1h4m0 -1h3m0 -1h4m0 -1h5m0 -1h7m0 -1h5m0 -1h4m0 -1h5m0 -1h5m0 -1h4m0 -1h5m0 -1h5m0 -1h4m0 -1h3m0 -1h4m0 -1h3m0 -1h2m0 -1h2m0 -1h3m0 -1h2m0 -1h2m0 -1h3m0 -1h4m0 -1h3m0 -1h4m0 -1h3m0 -1h4m0 -1h3m0 -1h4m0 -1h2m0 -1h2m0 -1h2m0 -1h2m0 -1h1m0 -1h2m0 -1h1m0 -1h1m0 -1h2m0 -1h1m0 -1h1m0 -1h1m0 -1h2m0 -1h1m0 -1h1m0 -1h1m0 -1h2m0 -1h1m0 -1h1m0 -1h2m0 -1h1m0 -1h2m0 -1h1m0 -1h1m0 -1h2m0 -1h1m0 -1h2m0 -1h2m0 -1h2m0 -1h1m0 -1h2m0 -1h2m0 -1h2m0 -1h2m0 -1h2m0 -1h2m0 -1h3m0 -1h2m0 -1h2m0 -1h3m0 -1h4m0 -1h5m0 -1h14m0 1h7m0 1h7m0 1h5m0 1h2m0 1h2m0 1h3m0 1h2m0 1h2m0 1h3m0 1h2m0 1h2m0 1h3m0 1h2m0 1h2m0 1h2m0 1h2m0 1h2m0 1h2m0 1h2m0 1h2m0 1h2m0 1h3m0 1h2m0 1h2m0 1h3m0 1h4m0 1h3m0 1h4m0 1h10m0 -1h4m0 -1h3m0 -1h4m0 -1h3m0 -1h2m0 -1h2m0 -1h3m0 -1h2m0 -1h2m0 -1h3m0 -1h4m0 -1h3m0 -1h4m0 -1h3m0 -1h4m0 -1h5m0 -1h7m0 -1h7m0 -1h19m0 1h4m0 1h3m0 1h2m0 1h2m0 1h3m0 1h2m0 1h2m0 1h2m0 1h2m0 1h2m0 1h2m0 1h1m0 1h2m0 1h2m0 1h2m0 1h1m0 1h2m0 1h1m0 1h1m0 1h2m0 1h1m0 1h1m0 1h1m0 1h2m0 1h1m0 1h1m0 1h1m0 1h2m0 1h1m0 1h1m0 1h2m0 1h1m0 1h2m0 1h1m0 1h1m0 1h2m0 1h1m0 1h2m0 1h1m0 1h1m0 1h2m0 1h1m0 1h2m0 1h2m0 1h2m0 1h1m0 1h2m0 1h2m0 1h2m0 1h2m0 1h2m0 1h2m0 1h2m0 1h2m0 1h2m0 1h2m0 1h2m0 1h2m0 1h2m0 1h3m0 1h4m0 1h5m0 1h5m0 1h4m0 1h5m0 1h7m0 1h14m0 -1h5m0 -1h4m0 -1h5m0 -1h5m0 -1h4m0 -1h3m0 -1h4m0 -1h3m0 -1h2m0 -1h2m0 -1h3m0 -1h2m0 -1h2m0 -1h3m0 -1h2m0 -1h2m0 -1h5m0 1h5m0 1h2m0 1h2m0 1h2m0 1h2m0 1h2m0 1h2m0 1h1m0 1h2m0 1h2m0 1h2m0 1h1m0 1h2m0 1h2m0 1h2m0 1h1m0 1h2m0 1h2m0 1h2m0 1h2m0 1h4m0 1h3m0 1h4m0 1h12m0 1h19m0 -1h4m0 -1h3m0 -1h2m0 -1h2m0 -1h3m0 -1h2m0 -1h2m0 -1h3m0 -1h4m0 -1h3m0 -1h4m0 -1h17m0 1h2m0 1h2m0 1h3m0 1h2m0 1h2m0 1h3m0 1h2m0 1h2m0 1h3m0 1h2m0 1h2m0 1h3m0 1h4m0 1h3m0 1h4m0 1h3m0 1h2m0 1h2m0 1h2" transform="translate(0,.5)" fill="none" stroke="#00008b" stroke-width="1" shape-rendering="crispEdges"/>
<path d="M66 853h1m0 1h1m0 1h1m0 1h2m0 1h1m0 1h1m0 1h1m0 1h1m0 1h1m0 1h1m0 1h1m-1 1h1m0 1h1m0 1h1m0 1h1m0 1h2m0 1h2m0 1h2m0 1h1m0 1h2m0 1h2m0 1h2m0 1h1m0 -1h1m0 -1h1m0 -1h1m0 -1h1m0 -1h1m0 -1h1m0 -1h1m0 -2h1m-1 1h1m0 -2h1m0 -1h1m0 -2h1m-1 1h1m0 -2h1m0 -2h1m-1 1h1m0 -2h1m0 -1h1m0 -1h1m0 -1h1m0 -1h1m0 -1h1m0 -1h1m0 -1h1m0 -1h1m0 -1h1m0 -1h1m0 -1h1m0 -1h1m0 -1h1m0 -1h1m0 -1h2m0 -1h1m0 -1h1m0 -1h2m0 -1h1m0 -1h1m0 -1h1m0 -1h1m0 -1h1m0 -1h1m0 -1h1m0 -1h1m0 -1h2m0 -1h2m0 -1h2m0 -1h4m0 -1h7m0 -1h7m0 1h5m0 1h4m0 1h2m0 1h2m0 1h2m0 1h2m0 1h2m0 1h4m0 1h3m0 1h2m0 1h2m0 1h3m0 1h4m0 1h3m0 1h2m0 1h2m0 1h3m0 1h4m0 1h5m0 -1h4m0 1h1m-1 1h1m0 1h1m0 1h1m-1 1h1m0 1h1m-1 1h1m0 1h1m0 1h1m-1 1h1m0 1h1m0 1h2m0 1h1m0 1h1m0 1h2m0 1h1m0 1h2m0 1h1m0 1h1m0 1h2m0 1h1m0 1h2m0 1h2m0 1h2m0 1h2m0 1h4m0 1h3m0 1h2m0 1h2m0 1h2m0 1h2m0 1h1m0 1h1m0 1h2m0 1h25m0 1h7m0 1h4m0 1h2m0 1h2m0 1h2m0 1h1m0 1h1m0 1h1m0 1h2m0 1h1m0 1h1m0 1h1m0 1h1m0 1h1m0 1h2m0 1h1m0 1h1m0 1h1m0 1h2m0 1h1m0 1h1m0 1h2m0 1h2m0 1h4m0 1h3m0 -1h4m0 -1h2m0 -2h1m-1 1h1m0 -2h1m0 -1h1m0 -2h1m-1 1h1m0 -2h1m0 -2h1m-1 1h1m0 -2h2m0 -1h4m0 -1h3m0 -1h2m0 -1h2m0 -1h2m0 -1h2m0 -1h2m0 -1h2m0 -1h1m0 -1h1m0 -1h1m0 -1h2m0 -1h1m0 -1h1m0 -1h1m0 -1h1m0 -1h1m0 -1h2m0 -1h1m0 -1h1m0 -1h2m0 -1h4m0 -1h3m0 -1h4m0 -1h5m0 -1h4m0 -1h2m0 -1h1m0 -1h1m0 -1h2m0 -1h2m0 -1h4m0 -1h5m0 -1h7m0 -1h4m0 1h1m0 1h1m0 1h1m0 1h1m0 1h1m0 1h1m0 1h2m0 1h2m0 1h2m0 1h3m0 1h4m0 1h5m0 1h4m0 1h2m0 1h1m0 1h1m0 1h2m0 1h2m0 1h4m0 1h10m0 1h4m0 1h10m0 1h4m0 1h5m0 1h4m0 1h2m0 1h2m0 1h2m0 1h2m0 -1h2m0 -1h2m0 -1h3m0 -1h2m0 -1h2m0 -1h3m0 -1h4m0 -1h3m0 -1h4m0 -1h5m0 -1h4m0 -1h2m0 -1h1m0 -1h1m0 -1h2m0 -1h1m0 -1h1m0 -1h1m0 -1h1m0 -2h1m-1 1h1m0 -2h1m0 -1h1m0 -1h1m0 -1h1m0 -1h1m0 -1h1m0 -1h1m0 -1h1m0 -1h1m0 -1h1m0 -1h2m0 -1h1m0 -1h1m0 -1h2m0 -1h1m0 -1h2m0 -1h2m0 -1h2m0 -1h4m0 -1h4m0 -1h1m0 -1h1m0 -1h1m0 -2h1m-1 1h1m0 -2h1m0 -1h1m0 -1h2m0 -1h2m0 -1h2m0 -1h3m0 -1h2m0 -1h2m0 -1h3m0 -1h4m0 -1h3m0 -1h2m0 -1h2m0 -1h2m0 -1h1m0 -1h1m0 -1h2m0 -1h1m0 -1h1m0 -1h1m0 -1h2m0 -1h2m0 -1h2m0 -1h4m0 -1h21m0 1h5m0 -1h4m0 -1h5m0 1h4m0 1h2m0 1h2m0 1h2m0 1h1m0 1h1m0 1h1m0 1h1m0 1h1m0 1h1m0 1h1m0 1h2m0 1h4m0 1h3m0 1h4m0 1h3m0 1h2m0 1h2m0 1h2m0 1h1m0 1h1m0 1h2m0 1h1m0 1h1m0 1h1m0 1h2m0 1h1m0 1h1m0 1h2m0 1h1m0 1h2m0 1h2m0 1h2m0 1h2m0 1h2m0 1h2m0 1h12m0 -1h4m0 -1h1m0 -1h1m0 -1h2m0 -1h1m0 -1h1m0 -1h1m0 -1h1m0 -1h1m0 -1h2m0 -1h1m0 -1h1m0 -1h1m0 -1h2m0 -1h2m0 -1h2m0 -1h2m0 -1h2m0 -1h2m0 -1h12m0 -1h7m0 -1h5m0 -1h4m0 -1h5m0 -1h7m0 -1h5m0 -1h2m0 -1h2m0 -1h2m0 -1h1m0 -1h1m0 -1h1m0 -1h1m0 -1h1m0 -1h1m0 -1h2m0 -1h2m0 -1h2m0 -1h5m0 -1h7m0 -1h5m0 -1h2m0 -1h2m0 -1h3m0 -1h2m0 -1h2m0 -1h9m0 -2h1m-1 1h1m0 -3h1m-1 1h1m0 -2h1m0 -2h1m-1 1h1m0 -3h1m-1 1h1m0 -3h1m-1 1h1m0 -2h1m0 -2h1m-1 1h1m0 -2h1m0 -1h1m0 -2h1m-1 1h1m0 -2h1m0 -2h1m-1 1h1m0 -2h1m0 -1h1m0 -1h1m0 -1h2m0 -1h1m0 -1h1m0 -1h1m0 -1h1m0 -1h1m0 -1h1m0 -1h1m0 -1h1m0 -1h1m0 -1h4m0 -1h5m0 -1h2m0 -1h2m0 -1h5m0 -1h21m0 -1h5m0 1h2m0 1h2m0 1h2m0 1h2m0 1h1m0 1h1m0 1h2m0 1h2m0 1h4m0 1h3m0 1h4m0 1h2m0 1h2m0 1h1m0 1h1m0 1h2m0 1h1m0 1h1m0 1h1m0 1h1m0 1h1m0 1h1m0 1h1m0 1h1m0 1h2m0 1h2m0 1h2m0 1h2m0 1h4m0 1h2m0 1h1m0 1h1m0 1h1m0 1h1m0 1h1m0 1h1m0 1h2m0 1h4m0 1h3m0 1h2m0 1h2m0 1h5m0 1h12m0 -1h4m0 -1h2m0 -1h1m0 -1h1m0 -1h2m0 -1h1m0 -1h1m0 -1h1m0 -1h1m0 -1h1m0 -1h1m0 -1h1m0 -1h1m0 -1h1m0 -1h1m0 -1h1m0 -1h1m0 -1h2m0 -1h1m0 -1h1m0 -1h1m0 -1h2m0 -1h2m0 -1h2m0 -1h2m0 -1h2m0 -1h2m0 -1h5m0 -1h14m0 1h7m0 1h5m0 -1h2m0 -1h2m0 -1h10m0 1h4m0 1h2m0 1h2m0 1h2m0 1h2m0 1h1m0 1h1m0 1h1m0 1h1m0 1h1m-1 1h1m0 1h1m0 1h1m0 1h1m0 1h1m0 1h1m0 1h1m0 1h1m0 1h1m0 1h1m0 1h1m0 1h2m0 1h2m0 1h2m0 1h1m0 1h2m0 1h1m0 1h1m0 1h2m0 1h1m0 1h1m0 1h1m0 1h1m0 1h1m-1 1h1m0 1h1m0 1h1m0 1h1m0 1h1m0 1h1m0 1h1m0 1h1m-1 1h1m0 1h1m0 1h1m0 1h1m0 1h1m0 1h1m0 1h2m0 1h1m0 1h1m0 1h1m0 1h2m0 1h1m0 1h1m0 1h2m0 1h1m0 1h2m0 1h2m0 1h2m0 1h1m0 1h2m0 1h2m0 1h2m0 1h8m0 1h2m0 1h2m0 1h2m0 1h2m0 1h2m0 1h2m0 1h2m0 1h2m0 1h2m0 1h2m0 1h4m0 -1h7m0 -1h12m0 1h4m0 1h5m0 -1h5m0 -1h2m0 -1h2m0 -1h3m0 -1h4m0 -1h3m0 -1h4m0 -1h2m0 -1h1m0 -1h1m0 -1h2m0 -1h1m0 -1h1m0 -1h4m0 -1h5m0 -1h2m0 -1h2m0 -1h2m0 -1h2m0 -1h2m0 -1h2m0 -1h1m0 -1h1m0 -1h1m0 -1h2m0 -1h1m0 -1h1m0 -1h1m0 -1h2m0 -1h2m0 -1h2m0 -1h2m0 -1h4m0 -1h2m-1 1h1m0 1h1m-1 1h1m0 1h1m-1 1h1m0 1h1m-1 1h1m0 1h1m-1 1h1m-1 1h1m0 1h1m-1 1h1m0 1h1m-1 1h1m0 1h1m-1 1h1m0 1h1m-1 1h1m0 1h1m0 1h1m-1 1h1m0 1h1m-1 1h1m0 1h1m0 1h1m-1 1h1m0 1h1m0 1h1m-1 1h1m0 1h1m0 1h1m0 1h1m-1 1h1m0 1h1m0 1h1m-1 1h1m0 1h1m0 1h2m0 1h1m0 1h1m0 1h2m0 1h2m0 1h4m0 1h3m0 1h4m0 1h5m0 -1h5m0 -1h2m0 -1h2m0 -1h3m0 -1h2m0 -1h2m0 -1h5m0 -1h14m0 -1h4m0 -2h1m-1 1h1m0 -2h1m0 -1h1m0 -2h1m-1 1h1m0 -2h1m0 -2h1m-1 1h1m0 -2h1m0 -1h1m0 -1h1m0 -1h1m0 -1h1m0 -1h1m0 -1h1m0 -1h2m0 -1h2m0 -1h2m0 -1h5m0 1h7m0 1h5m0 1h2m0 1h2m0 1h2m0 1h1m0 1h1m0 1h1m0 1h1m0 1h1m0 1h1m0 1h1m0 1h1m0 1h1m-1 1h1m0 1h1m0 1h1m0 1h1m-1 1h1m0 1h1m0 1h1m0 1h1m0 1h1m0 1h2m0 1h1m0 1h1m0 1h2m0 1h4m0 1h5m0 1h12m0 1h4m0 1h2m0 1h1m0 1h1m0 1h1m0 1h1m0 1h1m0 1h1m0 1h1" transform="translate(0,.5)" fill="none" stroke="#000000" stroke-width="1" shape-rendering="crispEdges"/>
<g shape-rendering="crispEdges" fill="#000">
<rect x="141" y="219" width="7" height="1"/><rect x="143" y="217" width="1" height="3"/>
</g>
<g shape-rendering="crispEdges" fill="#000">
<rect x="1135" y="95" width="7" height="1"/><rect x="1137" y="93" width="1" height="3"/>
</g>
<g shape-rendering="crispEdges" fill="#000">
<rect x="519" y="695" width="7" height="1"/><rect x="521" y="694" width="1" height="3"/>
</g>
<g shape-rendering="crispEdges" fill="#000">
<rect x="1524" y="434" width="14" height="1"/><rect x="1536" y="433" width="1" height="3"/>
</g>
<text x="148.7" y="216.2" fill="#d9473f" class="b" textLength="44.4" lengthAdjust="spacingAndGlyphs" style="font-size:12.5px">1967.78</text>
<text x="1142.4" y="92.2" fill="#d9473f" class="b" textLength="44.4" lengthAdjust="spacingAndGlyphs" style="font-size:12.5px">1987.34</text>
<text x="526.2" y="707.2" fill="#62a65e" class="b" textLength="44.4" lengthAdjust="spacingAndGlyphs" style="font-size:12.5px">1892.86</text>
<text x="1478.2" y="446.2" fill="#62a65e" class="b" textLength="44.4" lengthAdjust="spacingAndGlyphs" style="font-size:12.5px">1933.89</text>
<text x="14.9" y="27.2" class="ax" textLength="44.0" lengthAdjust="spacingAndGlyphs" style="font-size:12.6px">1998.68</text>
<text x="1571.3" y="27.2" class="ax" textLength="44.0" lengthAdjust="spacingAndGlyphs" style="font-size:12.6px">1998.68</text>
<text x="14.9" y="82.2" class="ax" textLength="44.0" lengthAdjust="spacingAndGlyphs" style="font-size:12.6px">1989.97</text>
<text x="1571.3" y="82.2" class="ax" textLength="44.0" lengthAdjust="spacingAndGlyphs" style="font-size:12.6px">1989.97</text>
<text x="14.9" y="137.2" class="ax" textLength="44.0" lengthAdjust="spacingAndGlyphs" style="font-size:12.6px">1981.26</text>
<text x="1571.3" y="137.2" class="ax" textLength="44.0" lengthAdjust="spacingAndGlyphs" style="font-size:12.6px">1981.26</text>
<text x="14.9" y="192.2" class="ax" textLength="44.0" lengthAdjust="spacingAndGlyphs" style="font-size:12.6px">1972.55</text>
<text x="1571.3" y="192.2" class="ax" textLength="44.0" lengthAdjust="spacingAndGlyphs" style="font-size:12.6px">1972.55</text>
<text x="14.9" y="247.2" class="ax" textLength="44.0" lengthAdjust="spacingAndGlyphs" style="font-size:12.6px">1963.84</text>
<text x="1571.3" y="247.2" class="ax" textLength="44.0" lengthAdjust="spacingAndGlyphs" style="font-size:12.6px">1963.84</text>
<text x="14.9" y="303.2" class="ax" textLength="44.0" lengthAdjust="spacingAndGlyphs" style="font-size:12.6px">1955.13</text>
<text x="1571.3" y="303.2" class="ax" textLength="44.0" lengthAdjust="spacingAndGlyphs" style="font-size:12.6px">1955.13</text>
<text x="14.9" y="358.2" class="ax" textLength="44.0" lengthAdjust="spacingAndGlyphs" style="font-size:12.6px">1946.42</text>
<text x="1571.3" y="358.2" class="ax" textLength="44.0" lengthAdjust="spacingAndGlyphs" style="font-size:12.6px">1946.42</text>
<text x="14.9" y="413.2" class="ax" textLength="44.0" lengthAdjust="spacingAndGlyphs" style="font-size:12.6px">1937.71</text>
<text x="1571.3" y="413.2" class="ax" textLength="44.0" lengthAdjust="spacingAndGlyphs" style="font-size:12.6px">1937.71</text>
<text x="14.9" y="468.2" class="ax" textLength="44.0" lengthAdjust="spacingAndGlyphs" style="font-size:12.6px">1929.00</text>
<text x="1571.3" y="468.2" class="ax" textLength="44.0" lengthAdjust="spacingAndGlyphs" style="font-size:12.6px">1929.00</text>
<text x="14.9" y="523.2" class="ax" textLength="44.0" lengthAdjust="spacingAndGlyphs" style="font-size:12.6px">1920.29</text>
<text x="1571.3" y="523.2" class="ax" textLength="44.0" lengthAdjust="spacingAndGlyphs" style="font-size:12.6px">1920.29</text>
<text x="14.9" y="579.2" class="ax" textLength="44.0" lengthAdjust="spacingAndGlyphs" style="font-size:12.6px">1911.58</text>
<text x="1571.3" y="579.2" class="ax" textLength="44.0" lengthAdjust="spacingAndGlyphs" style="font-size:12.6px">1911.58</text>
<text x="14.9" y="634.2" class="ax" textLength="44.0" lengthAdjust="spacingAndGlyphs" style="font-size:12.6px">1902.87</text>
<text x="1571.3" y="634.2" class="ax" textLength="44.0" lengthAdjust="spacingAndGlyphs" style="font-size:12.6px">1902.87</text>
<text x="14.9" y="689.2" class="ax" textLength="44.0" lengthAdjust="spacingAndGlyphs" style="font-size:12.6px">1894.16</text>
<text x="1571.3" y="689.2" class="ax" textLength="44.0" lengthAdjust="spacingAndGlyphs" style="font-size:12.6px">1894.16</text>
<text x="35.1" y="767.2" class="ax" textLength="23.8" lengthAdjust="spacingAndGlyphs" style="font-size:12.6px">9.91</text>
<text x="1571.3" y="767.2" class="ax" textLength="23.8" lengthAdjust="spacingAndGlyphs" style="font-size:12.6px">9.91</text>
<text x="35.1" y="790.2" class="ax" textLength="23.8" lengthAdjust="spacingAndGlyphs" style="font-size:12.6px">6.78</text>
<text x="1571.3" y="790.2" class="ax" textLength="23.8" lengthAdjust="spacingAndGlyphs" style="font-size:12.6px">6.78</text>
<text x="35.1" y="813.2" class="ax" textLength="23.8" lengthAdjust="spacingAndGlyphs" style="font-size:12.6px">3.65</text>
<text x="1571.3" y="813.2" class="ax" textLength="23.8" lengthAdjust="spacingAndGlyphs" style="font-size:12.6px">3.65</text>
<text x="35.1" y="837.2" class="ax" textLength="23.8" lengthAdjust="spacingAndGlyphs" style="font-size:12.6px">0.52</text>
<text x="1571.3" y="837.2" class="ax" textLength="23.8" lengthAdjust="spacingAndGlyphs" style="font-size:12.6px">0.52</text>
<text x="31.1" y="860.2" class="ax" textLength="27.8" lengthAdjust="spacingAndGlyphs" style="font-size:12.6px">-2.61</text>
<text x="1571.3" y="860.2" class="ax" textLength="27.8" lengthAdjust="spacingAndGlyphs" style="font-size:12.6px">-2.61</text>
<text x="31.1" y="884.2" class="ax" textLength="27.8" lengthAdjust="spacingAndGlyphs" style="font-size:12.6px">-5.74</text>
<text x="1571.3" y="884.2" class="ax" textLength="27.8" lengthAdjust="spacingAndGlyphs" style="font-size:12.6px">-5.74</text>
<rect x="1568.5" y="430.5" width="69" height="17" fill="#fff" stroke="#ff8000" stroke-width="1" shape-rendering="crispEdges"/>
<text x="1571.3" y="443.2" fill="#ff8000" textLength="44" lengthAdjust="spacingAndGlyphs" style="font-size:12.6px">1934.64</text>
<path d="M1628 426 L1632 422 L1636 426 Z M1628 430 L1632 426 L1636 430 Z" fill="#ff8000"/>
<text x="64.2" y="16.3" fill="#000" class="cj m" textLength="47.8" lengthAdjust="spacing" style="font-size:11.6px">现货黄金</text>
<text y="16.8" fill="#ff8000" class="cj"><tspan x="111.1">【</tspan><tspan x="124.3" y="15.9" textLength="20.2" lengthAdjust="spacingAndGlyphs" style="font-family:'Liberation Sans',sans-serif;font-size:12.2px">240</tspan><tspan x="144.9" y="16.6" style="font-size:11.6px">分</tspan><tspan x="158.3" y="16.8">】</tspan></text>
<text x="191.5" y="16" fill="#000" textLength="133" lengthAdjust="spacing">MA(5,10,30,60,100,200)</text>
<text x="330" y="16" fill="#000" textLength="72.5" lengthAdjust="spacing">MA5:1945.11</text>
<text x="412.5" y="16" fill="#000080" textLength="81.5" lengthAdjust="spacing">MA10:1947.56</text>
<text x="502.3" y="16" fill="#ff00ff" textLength="81.5" lengthAdjust="spacing">MA30:1956.05</text>
<text x="592.2" y="16" fill="#ff8000" textLength="81.5" lengthAdjust="spacing">MA60:1961.28</text>
<text x="682.3" y="16" fill="#808080" textLength="88.5" lengthAdjust="spacing">MA100:1959.44</text>
<text x="779.3" y="16" fill="#d9473f" textLength="88.5" lengthAdjust="spacing">MA200:1941.90</text>
<g shape-rendering="crispEdges"><rect x="176.5" y="3.5" width="11" height="12" fill="#fff" stroke="#000080"/><rect x="177" y="16" width="12" height="1" fill="#6a6a6a"/><rect x="188" y="4" width="1" height="13" fill="#6a6a6a"/></g>
<polyline points="177.5,10 180,7 182,9.5 184.5,7.3 187.5,7.5" fill="none" stroke="#ff0000" stroke-width="1"/>
<polyline points="177.5,13 180,10 182.5,12.5 185,10 187.5,10.5" fill="none" stroke="#0000ff" stroke-width="1"/>
<text x="64.8" y="756" fill="#000" textLength="146" lengthAdjust="spacing">MACD(26,12,9) DIFF:-4.94</text>
<text x="219.7" y="756" fill="#000080" textLength="55" lengthAdjust="spacing">DEA:-3.28</text>
<text x="283.7" y="756" fill="#ff00ff" textLength="68" lengthAdjust="spacing">MACD:-3.32</text>
<circle cx="291.9" cy="31.9" r="1.8" fill="#0a6cc4"/>
<circle cx="466.9" cy="31.9" r="1.8" fill="#0a6cc4"/>
<circle cx="550.9" cy="31.9" r="1.8" fill="#0a6cc4"/>
<circle cx="592.9" cy="31.9" r="1.8" fill="#0a6cc4"/>
<circle cx="676.9" cy="31.9" r="1.8" fill="#0a6cc4"/>
<circle cx="760.9" cy="31.9" r="1.8" fill="#0a6cc4"/>
<circle cx="774.9" cy="31.9" r="1.8" fill="#0a6cc4"/>
<circle cx="844.9" cy="31.9" r="1.8" fill="#0a6cc4"/>
<circle cx="879.9" cy="31.9" r="1.8" fill="#0a6cc4"/>
<circle cx="900.9" cy="31.9" r="1.8" fill="#0a6cc4"/>
<circle cx="928.9" cy="31.9" r="1.8" fill="#0a6cc4"/>
<circle cx="970.9" cy="31.9" r="1.8" fill="#0a6cc4"/>
<circle cx="1054.9" cy="31.9" r="1.8" fill="#0a6cc4"/>
<circle cx="1096.9" cy="31.9" r="1.8" fill="#0a6cc4"/>
<circle cx="1509.9" cy="31.9" r="1.8" fill="#0a6cc4"/>
<g shape-rendering="crispEdges">
<rect x="1427.5" y="2.5" width="74" height="15" fill="#fff" stroke="#4a5261"/>
<rect x="1505.5" y="3.5" width="13" height="13" fill="#fff" stroke="#1c7fd6"/>
<rect x="1521.5" y="3.5" width="13" height="13" fill="#fff" stroke="#1c7fd6"/>
<rect x="1537.5" y="3.5" width="13" height="13" fill="#fff" stroke="#1c7fd6"/>
<rect x="1553.5" y="3.5" width="13" height="13" fill="#fff" stroke="#1c7fd6"/>
<g fill="#1c7fd6"><rect x="1507" y="9" width="3" height="2"/><rect x="1514" y="9" width="3" height="2"/><rect x="1511" y="9" width="2" height="2"/><rect x="1511" y="5" width="2" height="2"/><rect x="1511" y="13" width="2" height="2"/></g>
<g fill="#1c7fd6"><rect x="1524" y="5" width="1" height="10"/><rect x="1524" y="13" width="9" height="1"/></g>
<g fill="#1c7fd6"><rect x="1540" y="5" width="1" height="10"/><rect x="1540" y="13" width="9" height="1"/></g>
<g fill="#1c7fd6"><rect x="1527" y="6" width="1" height="5"/></g>
<rect x="1555.5" y="5.5" width="3" height="9" fill="#fff" stroke="#1c7fd6"/><rect x="1558" y="9" width="5" height="2" fill="#1c7fd6"/>
</g>
<g fill="#1c7fd6"><path d="M1532.5 6 v5.5 l-4 -2.75z"/><path d="M1543 5.5 v7 l5.5 -3.5z"/><path d="M1562 6.5 l4 3.5 l-4 3.5z"/>
<path d="M1524.5 4 l2 2.5 h-4z M1524.5 15.8 l2 -2.5 h-4z M1533.5 13.5 l-2.5 -2 v4z M1523 13.5 l2.5 -2 v4z"/>
<path d="M1540.5 4 l2 2.5 h-4z M1540.5 15.8 l2 -2.5 h-4z M1549.5 13.5 l-2.5 -2 v4z M1539 13.5 l2.5 -2 v4z"/>
</g>
<text x="1434" y="15" fill="#4a5261" class="cj m" textLength="48" lengthAdjust="spacing">全部主题</text>
<text x="1479.8" y="16.6" fill="#4a5261" style="font-size:17px">▼</text>
<circle cx="0.5" cy="748.8" r="4.3" fill="#fff" stroke="#000" stroke-width="1.1"/><circle cx="0.5" cy="748.8" r="2.6" fill="#f00"/>
<g stroke="#f00" stroke-width="1.1" fill="none"><path d="M6.2 748.5h1.8M5.2 744.5l1.6-1.6M5.2 753.2l1.6 1.6M0.5 742v1.6M0.5 754v1.8"/></g>
</svg></body></html>
